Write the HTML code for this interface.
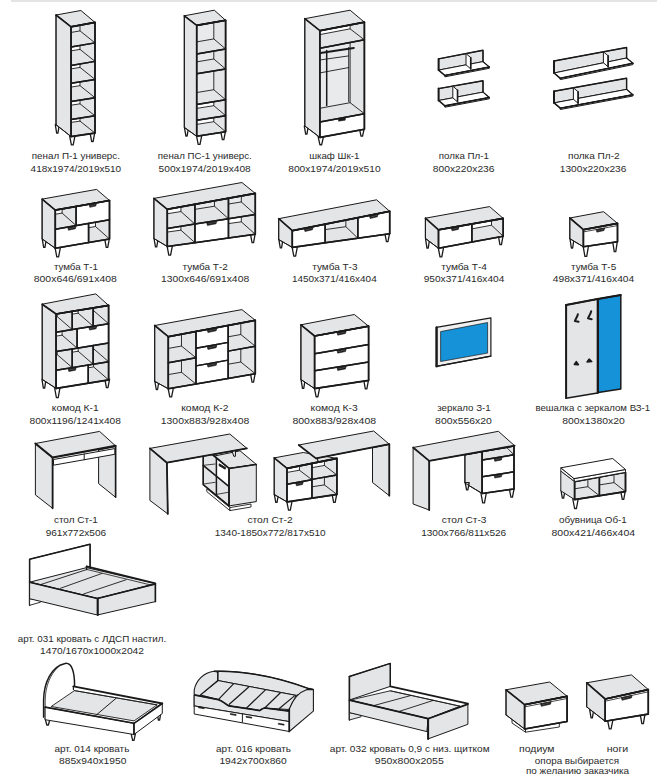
<!DOCTYPE html>
<html><head><meta charset="utf-8"><style>
html,body{margin:0;padding:0;background:#fff;width:668px;height:777px;overflow:hidden}
svg{display:block}
text{font-family:"Liberation Sans",sans-serif}
</style></head><body>
<svg width="668" height="777" viewBox="0 0 668 777">
<defs><clipPath id="c1"><polygon points="71.1,26.8 95,22.4 95,42.88 71.1,47.11"/></clipPath><clipPath id="c2"><polygon points="71.1,47.11 95,42.88 95,61.37 71.1,65.45"/></clipPath><clipPath id="c3"><polygon points="71.1,65.45 95,61.37 95,79.41 71.1,83.35"/></clipPath><clipPath id="c4"><polygon points="71.1,83.35 95,79.41 95,97.68 71.1,101.46"/></clipPath><clipPath id="c5"><polygon points="71.1,101.46 95,97.68 95,115.83 71.1,119.47"/></clipPath><clipPath id="c6"><polygon points="71.1,119.47 95,115.83 95,133.1 71.1,136.6"/></clipPath><clipPath id="c7"><polygon points="196.7,25.4 225.6,20.3 225.6,48.93 196.7,53.9"/></clipPath><clipPath id="c8"><polygon points="196.7,53.9 225.6,48.93 225.6,68.98 196.7,73.86"/></clipPath><clipPath id="c9"><polygon points="196.7,73.86 225.6,68.98 225.6,99.73 196.7,104.47"/></clipPath><clipPath id="c10"><polygon points="196.7,104.47 225.6,99.73 225.6,115.66 196.7,120.33"/></clipPath><clipPath id="c11"><polygon points="196.7,120.33 225.6,115.66 225.6,131.7 196.7,136.3"/></clipPath><clipPath id="c12"><polygon points="319.9,30.7 364.4,22.2 364.4,39.85 319.9,48.31"/></clipPath><clipPath id="c13"><polygon points="319.9,48.31 364.4,39.85 364.4,113.68 319.9,121.93"/></clipPath><clipPath id="c14"><polygon points="55.3,210.1 76.11,206.41 76.11,225.57 55.3,229.2"/></clipPath><clipPath id="c15"><polygon points="88.58,223.4 109.5,219.75 109.5,239 88.58,242.59"/></clipPath><clipPath id="c16"><polygon points="167.3,209.3 194.93,204.31 194.93,224.06 167.3,228.46"/></clipPath><clipPath id="c17"><polygon points="167.3,228.46 194.93,224.06 194.93,242.67 167.3,246.5"/></clipPath><clipPath id="c18"><polygon points="194.93,204.31 228.46,198.25 228.46,218.73 194.93,224.06"/></clipPath><clipPath id="c19"><polygon points="228.46,198.25 255.3,193.4 255.3,214.46 228.46,218.73"/></clipPath><clipPath id="c20"><polygon points="228.46,218.73 255.3,214.46 255.3,234.3 228.46,238.02"/></clipPath><clipPath id="c21"><polygon points="325.12,224.16 357.85,217.64 357.85,238.18 325.12,242.78"/></clipPath><clipPath id="c22"><polygon points="471.89,223.92 503.2,218.4 503.2,236.2 471.89,242.06"/></clipPath><clipPath id="c23"><polygon points="56.1,314 72.22,311.36 72.22,329.6 56.1,332.23"/></clipPath><clipPath id="c24"><polygon points="72.22,311.36 93.16,307.93 93.16,326.17 72.22,329.6"/></clipPath><clipPath id="c25"><polygon points="93.16,307.93 108.6,305.4 108.6,323.65 93.16,326.17"/></clipPath><clipPath id="c26"><polygon points="56.1,332.23 77.1,328.8 77.1,348.15 56.1,351.57"/></clipPath><clipPath id="c27"><polygon points="56.1,351.57 72.22,348.95 72.22,367.63 56.1,370.25"/></clipPath><clipPath id="c28"><polygon points="72.22,348.95 93.16,345.54 93.16,364.23 72.22,367.63"/></clipPath><clipPath id="c29"><polygon points="93.16,345.54 108.6,343.02 108.6,361.72 93.16,364.23"/></clipPath><clipPath id="c30"><polygon points="88.23,365.03 108.6,361.72 108.6,379.9 88.23,383.2"/></clipPath><clipPath id="c31"><polygon points="168.3,336.7 195.97,331.48 195.97,357.74 168.3,362.75"/></clipPath><clipPath id="c32"><polygon points="168.3,362.75 195.97,357.74 195.97,384 168.3,388.8"/></clipPath><clipPath id="c33"><polygon points="228.16,325.42 255.3,320.3 255.3,346.2 228.16,351.12"/></clipPath><clipPath id="c34"><polygon points="228.16,351.12 255.3,346.2 255.3,373.7 228.16,378.41"/></clipPath><clipPath id="c35"><polygon points="287,468.4 311.95,463.4 311.95,479.73 287,484.14"/></clipPath><clipPath id="c36"><polygon points="311.95,463.4 336.9,458.4 336.9,474.96 311.95,479.38"/></clipPath><clipPath id="c37"><polygon points="311.95,479.38 336.9,474.96 336.9,494.4 311.95,498.15"/></clipPath><clipPath id="c38"><polygon points="482.2,451.5 514,446 514,454.81 482.2,460.11"/></clipPath><clipPath id="c39"><polygon points="574.6,481.6 599.39,477.07 599.39,495.7 574.6,499.6"/></clipPath><clipPath id="c40"><polygon points="599.39,477.07 625.5,472.3 625.5,491.6 599.39,495.7"/></clipPath></defs>
<rect x="11" y="0" width="646" height="2" fill="#e4e4e6"/>
<polygon points="55.3,124.72 59.3,124.72 57.94,133.22 56.66,133.22" fill="#ffffff" stroke="#1b1a1a" stroke-width="1.3" stroke-linejoin="round" />
<polygon points="69.5,135.42 75.1,135.42 73.2,144.92 71.4,144.92" fill="#ffffff" stroke="#1b1a1a" stroke-width="1.3" stroke-linejoin="round" />
<polygon points="90,132.48 94.8,132.48 93.17,141.48 91.63,141.48" fill="#ffffff" stroke="#1b1a1a" stroke-width="1.3" stroke-linejoin="round" />
<polygon points="56,15 80.9,10.5 95,22.4 71.1,26.8" fill="#e4e5e6" stroke="#1b1a1a" stroke-width="1.0" stroke-linejoin="round" />
<polygon points="56,15 71.1,26.8 71.1,136.6 56,124.7" fill="#e4e5e6" stroke="#1b1a1a" stroke-width="1.0" stroke-linejoin="round" />
<polygon points="71.1,26.8 95,22.4 95,42.88 71.1,47.11" fill="#e4e5e6" stroke="none" stroke-width="0" stroke-linejoin="round" />
<g clip-path="url(#c1)">
<polygon points="56.1,14.8 80,10.4 80,30.88 56.1,35.11" fill="#e9eaeb" stroke="none" stroke-width="0" stroke-linejoin="round" />
<polygon points="56.1,14.8 80,10.4 80,30.88 56.1,35.11" fill="none" stroke="#1b1a1a" stroke-width="0.9" stroke-linejoin="round" />
<line x1="95" y1="42.88" x2="80" y2="30.88" stroke="#1b1a1a" stroke-width="0.9" stroke-linecap="round"/>
</g>
<polygon points="71.1,47.11 95,42.88 95,61.37 71.1,65.45" fill="#e4e5e6" stroke="none" stroke-width="0" stroke-linejoin="round" />
<g clip-path="url(#c2)">
<polygon points="56.1,35.11 80,30.88 80,49.37 56.1,53.45" fill="#ffffff" stroke="none" stroke-width="0" stroke-linejoin="round" />
<polygon points="56.1,35.11 80,30.88 80,49.37 56.1,53.45" fill="none" stroke="#1b1a1a" stroke-width="0.9" stroke-linejoin="round" />
<line x1="95" y1="61.37" x2="80" y2="49.37" stroke="#1b1a1a" stroke-width="0.9" stroke-linecap="round"/>
</g>
<polygon points="71.1,65.45 95,61.37 95,79.41 71.1,83.35" fill="#e4e5e6" stroke="none" stroke-width="0" stroke-linejoin="round" />
<g clip-path="url(#c3)">
<polygon points="56.1,53.45 80,49.37 80,67.41 56.1,71.35" fill="#ffffff" stroke="none" stroke-width="0" stroke-linejoin="round" />
<polygon points="56.1,53.45 80,49.37 80,67.41 56.1,71.35" fill="none" stroke="#1b1a1a" stroke-width="0.9" stroke-linejoin="round" />
<line x1="95" y1="79.41" x2="80" y2="67.41" stroke="#1b1a1a" stroke-width="0.9" stroke-linecap="round"/>
</g>
<polygon points="71.1,83.35 95,79.41 95,97.68 71.1,101.46" fill="#e4e5e6" stroke="none" stroke-width="0" stroke-linejoin="round" />
<g clip-path="url(#c4)">
<polygon points="56.1,71.35 80,67.41 80,85.68 56.1,89.46" fill="#ffffff" stroke="none" stroke-width="0" stroke-linejoin="round" />
<polygon points="56.1,71.35 80,67.41 80,85.68 56.1,89.46" fill="none" stroke="#1b1a1a" stroke-width="0.9" stroke-linejoin="round" />
<line x1="95" y1="97.68" x2="80" y2="85.68" stroke="#1b1a1a" stroke-width="0.9" stroke-linecap="round"/>
</g>
<polygon points="71.1,101.46 95,97.68 95,115.83 71.1,119.47" fill="#e4e5e6" stroke="none" stroke-width="0" stroke-linejoin="round" />
<g clip-path="url(#c5)">
<polygon points="56.1,89.46 80,85.68 80,103.83 56.1,107.47" fill="#ffffff" stroke="none" stroke-width="0" stroke-linejoin="round" />
<polygon points="56.1,89.46 80,85.68 80,103.83 56.1,107.47" fill="none" stroke="#1b1a1a" stroke-width="0.9" stroke-linejoin="round" />
<line x1="95" y1="115.83" x2="80" y2="103.83" stroke="#1b1a1a" stroke-width="0.9" stroke-linecap="round"/>
</g>
<polygon points="71.1,119.47 95,115.83 95,133.1 71.1,136.6" fill="#e4e5e6" stroke="none" stroke-width="0" stroke-linejoin="round" />
<g clip-path="url(#c6)">
<polygon points="56.1,107.47 80,103.83 80,121.1 56.1,124.6" fill="#ffffff" stroke="none" stroke-width="0" stroke-linejoin="round" />
<polygon points="56.1,107.47 80,103.83 80,121.1 56.1,124.6" fill="none" stroke="#1b1a1a" stroke-width="0.9" stroke-linejoin="round" />
<line x1="95" y1="133.1" x2="80" y2="121.1" stroke="#1b1a1a" stroke-width="0.9" stroke-linecap="round"/>
</g>
<polygon points="71.1,26.8 95,22.4 95,42.88 71.1,47.11" fill="none" stroke="#1b1a1a" stroke-width="1.5" stroke-linejoin="round" />
<polygon points="71.1,47.11 95,42.88 95,61.37 71.1,65.45" fill="none" stroke="#1b1a1a" stroke-width="1.5" stroke-linejoin="round" />
<polygon points="71.1,65.45 95,61.37 95,79.41 71.1,83.35" fill="none" stroke="#1b1a1a" stroke-width="1.5" stroke-linejoin="round" />
<polygon points="71.1,83.35 95,79.41 95,97.68 71.1,101.46" fill="none" stroke="#1b1a1a" stroke-width="1.5" stroke-linejoin="round" />
<polygon points="71.1,101.46 95,97.68 95,115.83 71.1,119.47" fill="none" stroke="#1b1a1a" stroke-width="1.5" stroke-linejoin="round" />
<polygon points="71.1,119.47 95,115.83 95,133.1 71.1,136.6" fill="none" stroke="#1b1a1a" stroke-width="1.5" stroke-linejoin="round" />
<polygon points="71.1,26.8 95,22.4 95,133.1 71.1,136.6" fill="none" stroke="#1b1a1a" stroke-width="1.6" stroke-linejoin="round" />
<polyline points="56,15 71.1,26.8 95,22.4" fill="none" stroke="#1b1a1a" stroke-width="1.7" stroke-linejoin="round" stroke-linecap="round" />
<line x1="56" y1="15" x2="56" y2="124.7" stroke="#1b1a1a" stroke-width="1.0" stroke-linecap="round"/>
<line x1="56" y1="124.7" x2="71.1" y2="136.6" stroke="#1b1a1a" stroke-width="1.0" stroke-linecap="round"/>
<polygon points="184.5,127.98 188.5,127.98 187.14,135.98 185.86,135.98" fill="#ffffff" stroke="#1b1a1a" stroke-width="1.3" stroke-linejoin="round" />
<polygon points="196.3,134.92 201.9,134.92 200,144.42 198.2,144.42" fill="#ffffff" stroke="#1b1a1a" stroke-width="1.3" stroke-linejoin="round" />
<polygon points="220.7,131.1 225.5,131.1 223.87,139.6 222.33,139.6" fill="#ffffff" stroke="#1b1a1a" stroke-width="1.3" stroke-linejoin="round" />
<polygon points="184.3,15.8 214.3,10.2 225.6,20.3 196.7,25.4" fill="#e4e5e6" stroke="#1b1a1a" stroke-width="1.0" stroke-linejoin="round" />
<polygon points="184.3,15.8 196.7,25.4 196.7,136.3 184.3,127.4" fill="#e4e5e6" stroke="#1b1a1a" stroke-width="1.0" stroke-linejoin="round" />
<polygon points="196.7,25.4 225.6,20.3 225.6,48.93 196.7,53.9" fill="#e4e5e6" stroke="none" stroke-width="0" stroke-linejoin="round" />
<g clip-path="url(#c7)">
<polygon points="184.9,15.4 213.8,10.3 213.8,38.93 184.9,43.9" fill="#e9eaeb" stroke="none" stroke-width="0" stroke-linejoin="round" />
<polygon points="184.9,15.4 213.8,10.3 213.8,38.93 184.9,43.9" fill="none" stroke="#1b1a1a" stroke-width="0.9" stroke-linejoin="round" />
<line x1="225.6" y1="48.93" x2="213.8" y2="38.93" stroke="#1b1a1a" stroke-width="0.9" stroke-linecap="round"/>
</g>
<polygon points="196.7,53.9 225.6,48.93 225.6,68.98 196.7,73.86" fill="#e4e5e6" stroke="none" stroke-width="0" stroke-linejoin="round" />
<g clip-path="url(#c8)">
<polygon points="184.9,43.9 213.8,38.93 213.8,58.98 184.9,63.86" fill="#e9eaeb" stroke="none" stroke-width="0" stroke-linejoin="round" />
<polygon points="184.9,43.9 213.8,38.93 213.8,58.98 184.9,63.86" fill="none" stroke="#1b1a1a" stroke-width="0.9" stroke-linejoin="round" />
<line x1="225.6" y1="68.98" x2="213.8" y2="58.98" stroke="#1b1a1a" stroke-width="0.9" stroke-linecap="round"/>
</g>
<polygon points="196.7,73.86 225.6,68.98 225.6,99.73 196.7,104.47" fill="#e4e5e6" stroke="none" stroke-width="0" stroke-linejoin="round" />
<g clip-path="url(#c9)">
<polygon points="184.9,63.86 213.8,58.98 213.8,89.73 184.9,94.47" fill="#e9eaeb" stroke="none" stroke-width="0" stroke-linejoin="round" />
<polygon points="184.9,63.86 213.8,58.98 213.8,89.73 184.9,94.47" fill="none" stroke="#1b1a1a" stroke-width="0.9" stroke-linejoin="round" />
<line x1="225.6" y1="99.73" x2="213.8" y2="89.73" stroke="#1b1a1a" stroke-width="0.9" stroke-linecap="round"/>
</g>
<polygon points="196.7,104.47 225.6,99.73 225.6,115.66 196.7,120.33" fill="#e4e5e6" stroke="none" stroke-width="0" stroke-linejoin="round" />
<g clip-path="url(#c10)">
<polygon points="184.9,94.47 213.8,89.73 213.8,105.66 184.9,110.33" fill="#ffffff" stroke="none" stroke-width="0" stroke-linejoin="round" />
<polygon points="184.9,94.47 213.8,89.73 213.8,105.66 184.9,110.33" fill="none" stroke="#1b1a1a" stroke-width="0.9" stroke-linejoin="round" />
<line x1="225.6" y1="115.66" x2="213.8" y2="105.66" stroke="#1b1a1a" stroke-width="0.9" stroke-linecap="round"/>
</g>
<polygon points="196.7,120.33 225.6,115.66 225.6,131.7 196.7,136.3" fill="#e4e5e6" stroke="none" stroke-width="0" stroke-linejoin="round" />
<g clip-path="url(#c11)">
<polygon points="184.9,110.33 213.8,105.66 213.8,121.7 184.9,126.3" fill="#ffffff" stroke="none" stroke-width="0" stroke-linejoin="round" />
<polygon points="184.9,110.33 213.8,105.66 213.8,121.7 184.9,126.3" fill="none" stroke="#1b1a1a" stroke-width="0.9" stroke-linejoin="round" />
<line x1="225.6" y1="131.7" x2="213.8" y2="121.7" stroke="#1b1a1a" stroke-width="0.9" stroke-linecap="round"/>
</g>
<polygon points="196.7,25.4 225.6,20.3 225.6,48.93 196.7,53.9" fill="none" stroke="#1b1a1a" stroke-width="1.5" stroke-linejoin="round" />
<polygon points="196.7,53.9 225.6,48.93 225.6,68.98 196.7,73.86" fill="none" stroke="#1b1a1a" stroke-width="1.5" stroke-linejoin="round" />
<polygon points="196.7,73.86 225.6,68.98 225.6,99.73 196.7,104.47" fill="none" stroke="#1b1a1a" stroke-width="1.5" stroke-linejoin="round" />
<polygon points="196.7,104.47 225.6,99.73 225.6,115.66 196.7,120.33" fill="none" stroke="#1b1a1a" stroke-width="1.5" stroke-linejoin="round" />
<polygon points="196.7,120.33 225.6,115.66 225.6,131.7 196.7,136.3" fill="none" stroke="#1b1a1a" stroke-width="1.5" stroke-linejoin="round" />
<polygon points="196.7,25.4 225.6,20.3 225.6,131.7 196.7,136.3" fill="none" stroke="#1b1a1a" stroke-width="1.6" stroke-linejoin="round" />
<polyline points="184.3,15.8 196.7,25.4 225.6,20.3" fill="none" stroke="#1b1a1a" stroke-width="1.7" stroke-linejoin="round" stroke-linecap="round" />
<line x1="184.3" y1="15.8" x2="184.3" y2="127.4" stroke="#1b1a1a" stroke-width="1.0" stroke-linecap="round"/>
<line x1="184.3" y1="127.4" x2="196.7" y2="136.3" stroke="#1b1a1a" stroke-width="1.0" stroke-linecap="round"/>
<polygon points="304.3,126.13 308.3,126.13 306.94,134.13 305.66,134.13" fill="#ffffff" stroke="#1b1a1a" stroke-width="1.3" stroke-linejoin="round" />
<polygon points="318,136.23 323.6,136.23 321.7,144.73 319.9,144.73" fill="#ffffff" stroke="#1b1a1a" stroke-width="1.3" stroke-linejoin="round" />
<polygon points="359.4,128.68 364.2,128.68 362.57,136.18 361.03,136.18" fill="#ffffff" stroke="#1b1a1a" stroke-width="1.3" stroke-linejoin="round" />
<polygon points="304.8,18.7 350.1,10.2 364.4,22.2 319.9,30.7" fill="#e4e5e6" stroke="#1b1a1a" stroke-width="1.0" stroke-linejoin="round" />
<polygon points="304.8,18.7 319.9,30.7 319.9,137.4 304.8,126" fill="#e4e5e6" stroke="#1b1a1a" stroke-width="1.0" stroke-linejoin="round" />
<polygon points="319.9,30.7 364.4,22.2 364.4,39.85 319.9,48.31" fill="#e4e5e6" stroke="none" stroke-width="0" stroke-linejoin="round" />
<g clip-path="url(#c12)">
<polygon points="305.6,19.7 350.1,11.2 350.1,28.85 305.6,37.31" fill="#ffffff" stroke="none" stroke-width="0" stroke-linejoin="round" />
<polygon points="305.6,19.7 350.1,11.2 350.1,28.85 305.6,37.31" fill="none" stroke="#1b1a1a" stroke-width="0.9" stroke-linejoin="round" />
<line x1="364.4" y1="39.85" x2="350.1" y2="28.85" stroke="#1b1a1a" stroke-width="0.9" stroke-linecap="round"/>
</g>
<polygon points="319.9,48.31 364.4,39.85 364.4,113.68 319.9,121.93" fill="#e4e5e6" stroke="none" stroke-width="0" stroke-linejoin="round" />
<g clip-path="url(#c13)">
<polygon points="305.6,37.31 350.1,28.85 350.1,102.68 305.6,110.93" fill="#e9eaeb" stroke="none" stroke-width="0" stroke-linejoin="round" />
<polygon points="305.6,37.31 350.1,28.85 350.1,102.68 305.6,110.93" fill="none" stroke="#1b1a1a" stroke-width="0.9" stroke-linejoin="round" />
<line x1="364.4" y1="113.68" x2="350.1" y2="102.68" stroke="#1b1a1a" stroke-width="0.9" stroke-linecap="round"/>
</g>
<polygon points="319.9,121.93 364.4,113.68 364.4,129.2 319.9,137.4" fill="#ffffff" stroke="none" stroke-width="0" stroke-linejoin="round" />
<polygon points="319.9,30.7 364.4,22.2 364.4,39.85 319.9,48.31" fill="none" stroke="#1b1a1a" stroke-width="1.5" stroke-linejoin="round" />
<polygon points="319.9,48.31 364.4,39.85 364.4,113.68 319.9,121.93" fill="none" stroke="#1b1a1a" stroke-width="1.5" stroke-linejoin="round" />
<polygon points="319.9,121.93 364.4,113.68 364.4,129.2 319.9,137.4" fill="none" stroke="#1b1a1a" stroke-width="1.5" stroke-linejoin="round" />
<polygon points="319.9,30.7 364.4,22.2 364.4,129.2 319.9,137.4" fill="none" stroke="#1b1a1a" stroke-width="1.6" stroke-linejoin="round" />
<polyline points="304.8,18.7 319.9,30.7 364.4,22.2" fill="none" stroke="#1b1a1a" stroke-width="1.7" stroke-linejoin="round" stroke-linecap="round" />
<line x1="304.8" y1="18.7" x2="304.8" y2="126" stroke="#1b1a1a" stroke-width="1.0" stroke-linecap="round"/>
<line x1="304.8" y1="126" x2="319.9" y2="137.4" stroke="#1b1a1a" stroke-width="1.0" stroke-linecap="round"/>
<line x1="326.7" y1="50.5" x2="326.7" y2="105.5" stroke="#1b1a1a" stroke-width="1.5" stroke-linecap="round"/>
<line x1="348.7" y1="47.5" x2="348.7" y2="101.5" stroke="#1b1a1a" stroke-width="0.9" stroke-linecap="round"/>
<line x1="320.4" y1="59.9" x2="348.6" y2="55.9" stroke="#1b1a1a" stroke-width="0.9" stroke-linecap="round"/>
<line x1="320.4" y1="72.8" x2="348.6" y2="67.6" stroke="#1b1a1a" stroke-width="0.9" stroke-linecap="round"/>
<line x1="320.4" y1="53" x2="353.8" y2="47.9" stroke="#1b1a1a" stroke-width="2.0" stroke-linecap="round"/>
<polygon points="338.2,118.6 345.6,117.6 345.2,120.2 338.6,121.2" fill="#1b1a1a" stroke="#1b1a1a" stroke-width="0.5" stroke-linejoin="round" />
<polygon points="438.6,58.9 483,50.3 483,61.6 438.6,70.1" fill="#e4e5e6" stroke="#1b1a1a" stroke-width="1.0" stroke-linejoin="round" />
<polygon points="438.6,70.1 483,61.6 489.3,67 444.9,75.5" fill="#ffffff" stroke="#1b1a1a" stroke-width="1.0" stroke-linejoin="round" />
<polygon points="444.9,75.5 489.3,67 489.3,68.3 444.9,76.8" fill="#ffffff" stroke="#1b1a1a" stroke-width="1.0" stroke-linejoin="round" />
<polyline points="438.6,58.9 483,50.3 483,61.6" fill="none" stroke="#1b1a1a" stroke-width="1.4" stroke-linejoin="round" stroke-linecap="round" />
<line x1="438.6" y1="58.9" x2="438.6" y2="70.1" stroke="#1b1a1a" stroke-width="2.0" stroke-linecap="round"/>
<line x1="438.6" y1="70.1" x2="444.9" y2="75.5" stroke="#1b1a1a" stroke-width="1.6" stroke-linecap="round"/>
<line x1="444.9" y1="75.5" x2="489.3" y2="67" stroke="#1b1a1a" stroke-width="1.6" stroke-linecap="round"/>
<line x1="483" y1="61.6" x2="489.3" y2="67" stroke="#1b1a1a" stroke-width="1.2" stroke-linecap="round"/>
<polygon points="466,53.59 470.73,57.64 470.73,68.9 466,64.85" fill="#ffffff" stroke="#1b1a1a" stroke-width="1.0" stroke-linejoin="round" />
<line x1="470.73" y1="57.64" x2="470.73" y2="68.9" stroke="#1b1a1a" stroke-width="1.6" stroke-linecap="round"/>
<polygon points="438.6,88.6 483,80.8 483,92.1 438.6,100.5" fill="#e4e5e6" stroke="#1b1a1a" stroke-width="1.0" stroke-linejoin="round" />
<polygon points="438.6,100.5 483,92.1 489.3,97.5 444.9,105.9" fill="#ffffff" stroke="#1b1a1a" stroke-width="1.0" stroke-linejoin="round" />
<polygon points="444.9,105.9 489.3,97.5 489.3,98.8 444.9,107.2" fill="#ffffff" stroke="#1b1a1a" stroke-width="1.0" stroke-linejoin="round" />
<polyline points="438.6,88.6 483,80.8 483,92.1" fill="none" stroke="#1b1a1a" stroke-width="1.4" stroke-linejoin="round" stroke-linecap="round" />
<line x1="438.6" y1="88.6" x2="438.6" y2="100.5" stroke="#1b1a1a" stroke-width="2.0" stroke-linecap="round"/>
<line x1="438.6" y1="100.5" x2="444.9" y2="105.9" stroke="#1b1a1a" stroke-width="1.6" stroke-linecap="round"/>
<line x1="444.9" y1="105.9" x2="489.3" y2="97.5" stroke="#1b1a1a" stroke-width="1.6" stroke-linecap="round"/>
<line x1="483" y1="92.1" x2="489.3" y2="97.5" stroke="#1b1a1a" stroke-width="1.2" stroke-linecap="round"/>
<polygon points="452.8,86.11 457.53,90.16 457.53,101.86 452.8,97.81" fill="#ffffff" stroke="#1b1a1a" stroke-width="1.0" stroke-linejoin="round" />
<line x1="457.53" y1="90.16" x2="457.53" y2="101.86" stroke="#1b1a1a" stroke-width="1.6" stroke-linecap="round"/>
<polygon points="554,61 626.6,47.5 626.6,58 554,73" fill="#e4e5e6" stroke="#1b1a1a" stroke-width="1.0" stroke-linejoin="round" />
<polygon points="554,73 626.6,58 632.9,63.3 560.3,78.3" fill="#ffffff" stroke="#1b1a1a" stroke-width="1.0" stroke-linejoin="round" />
<polygon points="560.3,78.3 632.9,63.3 632.9,64.6 560.3,79.6" fill="#ffffff" stroke="#1b1a1a" stroke-width="1.0" stroke-linejoin="round" />
<polyline points="554,61 626.6,47.5 626.6,58" fill="none" stroke="#1b1a1a" stroke-width="1.4" stroke-linejoin="round" stroke-linecap="round" />
<line x1="554" y1="61" x2="554" y2="73" stroke="#1b1a1a" stroke-width="2.0" stroke-linecap="round"/>
<line x1="554" y1="73" x2="560.3" y2="78.3" stroke="#1b1a1a" stroke-width="1.6" stroke-linecap="round"/>
<line x1="560.3" y1="78.3" x2="632.9" y2="63.3" stroke="#1b1a1a" stroke-width="1.6" stroke-linecap="round"/>
<line x1="626.6" y1="58" x2="632.9" y2="63.3" stroke="#1b1a1a" stroke-width="1.2" stroke-linecap="round"/>
<polygon points="603.4,51.81 608.12,55.79 608.12,66.77 603.4,62.79" fill="#ffffff" stroke="#1b1a1a" stroke-width="1.0" stroke-linejoin="round" />
<line x1="608.12" y1="55.79" x2="608.12" y2="66.77" stroke="#1b1a1a" stroke-width="1.6" stroke-linecap="round"/>
<polygon points="554,91.3 626.6,78.2 626.6,89.4 554,102.9" fill="#e4e5e6" stroke="#1b1a1a" stroke-width="1.0" stroke-linejoin="round" />
<polygon points="554,102.9 626.6,89.4 632.9,94.7 560.3,108.2" fill="#ffffff" stroke="#1b1a1a" stroke-width="1.0" stroke-linejoin="round" />
<polygon points="560.3,108.2 632.9,94.7 632.9,96 560.3,109.5" fill="#ffffff" stroke="#1b1a1a" stroke-width="1.0" stroke-linejoin="round" />
<polyline points="554,91.3 626.6,78.2 626.6,89.4" fill="none" stroke="#1b1a1a" stroke-width="1.4" stroke-linejoin="round" stroke-linecap="round" />
<line x1="554" y1="91.3" x2="554" y2="102.9" stroke="#1b1a1a" stroke-width="2.0" stroke-linecap="round"/>
<line x1="554" y1="102.9" x2="560.3" y2="108.2" stroke="#1b1a1a" stroke-width="1.6" stroke-linecap="round"/>
<line x1="560.3" y1="108.2" x2="632.9" y2="94.7" stroke="#1b1a1a" stroke-width="1.6" stroke-linecap="round"/>
<line x1="626.6" y1="89.4" x2="632.9" y2="94.7" stroke="#1b1a1a" stroke-width="1.2" stroke-linecap="round"/>
<polygon points="573.4,87.8 578.12,91.77 578.12,103.27 573.4,99.29" fill="#ffffff" stroke="#1b1a1a" stroke-width="1.0" stroke-linejoin="round" />
<line x1="578.12" y1="91.77" x2="578.12" y2="103.27" stroke="#1b1a1a" stroke-width="1.6" stroke-linecap="round"/>
<polygon points="42.3,239.47 46.3,239.47 44.94,247.47 43.66,247.47" fill="#ffffff" stroke="#1b1a1a" stroke-width="1.3" stroke-linejoin="round" />
<polygon points="54.9,246.89 60.5,246.89 58.6,256.89 56.8,256.89" fill="#ffffff" stroke="#1b1a1a" stroke-width="1.3" stroke-linejoin="round" />
<polygon points="104.6,238.43 109.4,238.43 107.77,247.43 106.23,247.43" fill="#ffffff" stroke="#1b1a1a" stroke-width="1.3" stroke-linejoin="round" />
<polygon points="42.1,199.1 96.6,189.4 109.5,200.5 55.3,210.1" fill="#e4e5e6" stroke="#1b1a1a" stroke-width="1.0" stroke-linejoin="round" />
<polygon points="42.1,199.1 55.3,210.1 55.3,248.3 42.1,238.9" fill="#e4e5e6" stroke="#1b1a1a" stroke-width="1.0" stroke-linejoin="round" />
<polygon points="55.3,210.1 76.11,206.41 76.11,225.57 55.3,229.2" fill="#e4e5e6" stroke="none" stroke-width="0" stroke-linejoin="round" />
<g clip-path="url(#c14)">
<polygon points="41.3,197.6 62.11,193.91 62.11,213.07 41.3,216.7" fill="#ffffff" stroke="none" stroke-width="0" stroke-linejoin="round" />
<polygon points="41.3,197.6 62.11,193.91 62.11,213.07 41.3,216.7" fill="none" stroke="#1b1a1a" stroke-width="0.9" stroke-linejoin="round" />
<line x1="76.11" y1="225.57" x2="62.11" y2="213.07" stroke="#1b1a1a" stroke-width="0.9" stroke-linecap="round"/>
</g>
<polygon points="76.11,206.41 109.5,200.5 109.5,219.75 76.11,225.57" fill="#ffffff" stroke="none" stroke-width="0" stroke-linejoin="round" />
<polygon points="89.13,204.71 96.48,203.41 95.78,206.01 89.83,207.31" fill="#1b1a1a" stroke="#1b1a1a" stroke-width="0.6" stroke-linejoin="round" />
<line x1="90.53" y1="205.81" x2="95.08" y2="204.51" stroke="#777777" stroke-width="0.5" stroke-linecap="round"/>
<polygon points="55.3,229.2 88.58,223.4 88.58,242.59 55.3,248.3" fill="#ffffff" stroke="none" stroke-width="0" stroke-linejoin="round" />
<polygon points="67.78,227.62 76.1,226.17 75.4,228.77 68.48,230.22" fill="#1b1a1a" stroke="#1b1a1a" stroke-width="0.6" stroke-linejoin="round" />
<line x1="69.18" y1="228.72" x2="74.7" y2="227.27" stroke="#777777" stroke-width="0.5" stroke-linecap="round"/>
<polygon points="88.58,223.4 109.5,219.75 109.5,239 88.58,242.59" fill="#e4e5e6" stroke="none" stroke-width="0" stroke-linejoin="round" />
<g clip-path="url(#c15)">
<polygon points="74.58,210.9 95.5,207.25 95.5,226.5 74.58,230.09" fill="#ffffff" stroke="none" stroke-width="0" stroke-linejoin="round" />
<polygon points="74.58,210.9 95.5,207.25 95.5,226.5 74.58,230.09" fill="none" stroke="#1b1a1a" stroke-width="0.9" stroke-linejoin="round" />
<line x1="109.5" y1="239" x2="95.5" y2="226.5" stroke="#1b1a1a" stroke-width="0.9" stroke-linecap="round"/>
</g>
<polygon points="55.3,210.1 76.11,206.41 76.11,225.57 55.3,229.2" fill="none" stroke="#1b1a1a" stroke-width="1.5" stroke-linejoin="round" />
<polygon points="76.11,206.41 109.5,200.5 109.5,219.75 76.11,225.57" fill="none" stroke="#1b1a1a" stroke-width="1.5" stroke-linejoin="round" />
<polygon points="55.3,229.2 88.58,223.4 88.58,242.59 55.3,248.3" fill="none" stroke="#1b1a1a" stroke-width="1.5" stroke-linejoin="round" />
<polygon points="88.58,223.4 109.5,219.75 109.5,239 88.58,242.59" fill="none" stroke="#1b1a1a" stroke-width="1.5" stroke-linejoin="round" />
<polygon points="55.3,210.1 109.5,200.5 109.5,239 55.3,248.3" fill="none" stroke="#1b1a1a" stroke-width="1.6" stroke-linejoin="round" />
<polyline points="42.1,199.1 55.3,210.1 109.5,200.5" fill="none" stroke="#1b1a1a" stroke-width="1.7" stroke-linejoin="round" stroke-linecap="round" />
<line x1="42.1" y1="199.1" x2="42.1" y2="238.9" stroke="#1b1a1a" stroke-width="1.0" stroke-linecap="round"/>
<line x1="42.1" y1="238.9" x2="55.3" y2="248.3" stroke="#1b1a1a" stroke-width="1.0" stroke-linecap="round"/>
<polygon points="154.1,238.81 158.1,238.81 156.74,246.81 155.46,246.81" fill="#ffffff" stroke="#1b1a1a" stroke-width="1.3" stroke-linejoin="round" />
<polygon points="166.9,245.17 172.5,245.17 170.6,255.17 168.8,255.17" fill="#ffffff" stroke="#1b1a1a" stroke-width="1.3" stroke-linejoin="round" />
<polygon points="250.4,233.65 255.2,233.65 253.57,242.65 252.03,242.65" fill="#ffffff" stroke="#1b1a1a" stroke-width="1.3" stroke-linejoin="round" />
<polygon points="153.9,198.4 241.9,182.5 255.3,193.4 167.3,209.3" fill="#e4e5e6" stroke="#1b1a1a" stroke-width="1.0" stroke-linejoin="round" />
<polygon points="153.9,198.4 167.3,209.3 167.3,246.5 153.9,238.5" fill="#e4e5e6" stroke="#1b1a1a" stroke-width="1.0" stroke-linejoin="round" />
<polygon points="167.3,209.3 194.93,204.31 194.93,224.06 167.3,228.46" fill="#e4e5e6" stroke="none" stroke-width="0" stroke-linejoin="round" />
<g clip-path="url(#c16)">
<polygon points="153.3,196.8 180.93,191.81 180.93,211.56 153.3,215.96" fill="#ffffff" stroke="none" stroke-width="0" stroke-linejoin="round" />
<polygon points="153.3,196.8 180.93,191.81 180.93,211.56 153.3,215.96" fill="none" stroke="#1b1a1a" stroke-width="0.9" stroke-linejoin="round" />
<line x1="194.93" y1="224.06" x2="180.93" y2="211.56" stroke="#1b1a1a" stroke-width="0.9" stroke-linecap="round"/>
</g>
<polygon points="167.3,228.46 194.93,224.06 194.93,242.67 167.3,246.5" fill="#e4e5e6" stroke="none" stroke-width="0" stroke-linejoin="round" />
<g clip-path="url(#c17)">
<polygon points="153.3,215.96 180.93,211.56 180.93,230.17 153.3,234" fill="#ffffff" stroke="none" stroke-width="0" stroke-linejoin="round" />
<polygon points="153.3,215.96 180.93,211.56 180.93,230.17 153.3,234" fill="none" stroke="#1b1a1a" stroke-width="0.9" stroke-linejoin="round" />
<line x1="194.93" y1="242.67" x2="180.93" y2="230.17" stroke="#1b1a1a" stroke-width="0.9" stroke-linecap="round"/>
</g>
<polygon points="194.93,204.31 228.46,198.25 228.46,218.73 194.93,224.06" fill="#e4e5e6" stroke="none" stroke-width="0" stroke-linejoin="round" />
<g clip-path="url(#c18)">
<polygon points="180.93,191.81 214.46,185.75 214.46,206.23 180.93,211.56" fill="#e9eaeb" stroke="none" stroke-width="0" stroke-linejoin="round" />
<polygon points="180.93,191.81 214.46,185.75 214.46,206.23 180.93,211.56" fill="none" stroke="#1b1a1a" stroke-width="0.9" stroke-linejoin="round" />
<line x1="228.46" y1="218.73" x2="214.46" y2="206.23" stroke="#1b1a1a" stroke-width="0.9" stroke-linecap="round"/>
</g>
<polygon points="194.93,224.06 228.46,218.73 228.46,238.02 194.93,242.67" fill="#ffffff" stroke="none" stroke-width="0" stroke-linejoin="round" />
<polygon points="206.67,222.8 216.73,221.2 216.03,223.8 207.37,225.4" fill="#1b1a1a" stroke="#1b1a1a" stroke-width="0.6" stroke-linejoin="round" />
<line x1="208.07" y1="223.9" x2="215.33" y2="222.3" stroke="#777777" stroke-width="0.5" stroke-linecap="round"/>
<polygon points="228.46,198.25 255.3,193.4 255.3,214.46 228.46,218.73" fill="#e4e5e6" stroke="none" stroke-width="0" stroke-linejoin="round" />
<g clip-path="url(#c19)">
<polygon points="214.46,185.75 241.3,180.9 241.3,201.96 214.46,206.23" fill="#e9eaeb" stroke="none" stroke-width="0" stroke-linejoin="round" />
<polygon points="214.46,185.75 241.3,180.9 241.3,201.96 214.46,206.23" fill="none" stroke="#1b1a1a" stroke-width="0.9" stroke-linejoin="round" />
<line x1="255.3" y1="214.46" x2="241.3" y2="201.96" stroke="#1b1a1a" stroke-width="0.9" stroke-linecap="round"/>
</g>
<polygon points="228.46,218.73 255.3,214.46 255.3,234.3 228.46,238.02" fill="#e4e5e6" stroke="none" stroke-width="0" stroke-linejoin="round" />
<g clip-path="url(#c20)">
<polygon points="214.46,206.23 241.3,201.96 241.3,221.8 214.46,225.52" fill="#ffffff" stroke="none" stroke-width="0" stroke-linejoin="round" />
<polygon points="214.46,206.23 241.3,201.96 241.3,221.8 214.46,225.52" fill="none" stroke="#1b1a1a" stroke-width="0.9" stroke-linejoin="round" />
<line x1="255.3" y1="234.3" x2="241.3" y2="221.8" stroke="#1b1a1a" stroke-width="0.9" stroke-linecap="round"/>
</g>
<polygon points="167.3,209.3 194.93,204.31 194.93,224.06 167.3,228.46" fill="none" stroke="#1b1a1a" stroke-width="1.5" stroke-linejoin="round" />
<polygon points="167.3,228.46 194.93,224.06 194.93,242.67 167.3,246.5" fill="none" stroke="#1b1a1a" stroke-width="1.5" stroke-linejoin="round" />
<polygon points="194.93,204.31 228.46,198.25 228.46,218.73 194.93,224.06" fill="none" stroke="#1b1a1a" stroke-width="1.5" stroke-linejoin="round" />
<polygon points="194.93,224.06 228.46,218.73 228.46,238.02 194.93,242.67" fill="none" stroke="#1b1a1a" stroke-width="1.5" stroke-linejoin="round" />
<polygon points="228.46,198.25 255.3,193.4 255.3,214.46 228.46,218.73" fill="none" stroke="#1b1a1a" stroke-width="1.5" stroke-linejoin="round" />
<polygon points="228.46,218.73 255.3,214.46 255.3,234.3 228.46,238.02" fill="none" stroke="#1b1a1a" stroke-width="1.5" stroke-linejoin="round" />
<polygon points="167.3,209.3 255.3,193.4 255.3,234.3 167.3,246.5" fill="none" stroke="#1b1a1a" stroke-width="1.6" stroke-linejoin="round" />
<polyline points="153.9,198.4 167.3,209.3 255.3,193.4" fill="none" stroke="#1b1a1a" stroke-width="1.7" stroke-linejoin="round" stroke-linecap="round" />
<line x1="153.9" y1="198.4" x2="153.9" y2="238.5" stroke="#1b1a1a" stroke-width="1.0" stroke-linecap="round"/>
<line x1="153.9" y1="238.5" x2="167.3" y2="246.5" stroke="#1b1a1a" stroke-width="1.0" stroke-linecap="round"/>
<polygon points="278.9,239.86 282.9,239.86 281.54,247.86 280.26,247.86" fill="#ffffff" stroke="#1b1a1a" stroke-width="1.3" stroke-linejoin="round" />
<polygon points="291.9,246.06 297.5,246.06 295.6,256.06 293.8,256.06" fill="#ffffff" stroke="#1b1a1a" stroke-width="1.3" stroke-linejoin="round" />
<polygon points="384.8,233.05 389.6,233.05 387.97,241.55 386.43,241.55" fill="#ffffff" stroke="#1b1a1a" stroke-width="1.3" stroke-linejoin="round" />
<polygon points="278.7,218.7 376.6,199.8 389.7,211.3 292.3,230.7" fill="#e4e5e6" stroke="#1b1a1a" stroke-width="1.0" stroke-linejoin="round" />
<polygon points="278.7,218.7 292.3,230.7 292.3,247.4 278.7,239.6" fill="#e4e5e6" stroke="#1b1a1a" stroke-width="1.0" stroke-linejoin="round" />
<polygon points="292.3,230.7 325.12,224.16 325.12,242.78 292.3,247.4" fill="#ffffff" stroke="none" stroke-width="0" stroke-linejoin="round" />
<polygon points="304.28,228.91 313.14,227.15 312.44,229.75 304.98,231.51" fill="#1b1a1a" stroke="#1b1a1a" stroke-width="0.6" stroke-linejoin="round" />
<line x1="305.68" y1="230.01" x2="311.74" y2="228.25" stroke="#777777" stroke-width="0.5" stroke-linecap="round"/>
<polygon points="325.12,224.16 357.85,217.64 357.85,238.18 325.12,242.78" fill="#e4e5e6" stroke="none" stroke-width="0" stroke-linejoin="round" />
<g clip-path="url(#c21)">
<polygon points="313.12,212.66 345.85,206.14 345.85,226.68 313.12,231.28" fill="#e9eaeb" stroke="none" stroke-width="0" stroke-linejoin="round" />
<polygon points="313.12,212.66 345.85,206.14 345.85,226.68 313.12,231.28" fill="none" stroke="#1b1a1a" stroke-width="0.9" stroke-linejoin="round" />
<line x1="357.85" y1="238.18" x2="345.85" y2="226.68" stroke="#1b1a1a" stroke-width="0.9" stroke-linecap="round"/>
</g>
<polygon points="357.85,217.64 389.7,211.3 389.7,233.7 357.85,238.18" fill="#ffffff" stroke="none" stroke-width="0" stroke-linejoin="round" />
<polygon points="369.48,215.93 378.07,214.22 377.37,216.82 370.18,218.53" fill="#1b1a1a" stroke="#1b1a1a" stroke-width="0.6" stroke-linejoin="round" />
<line x1="370.88" y1="217.03" x2="376.67" y2="215.32" stroke="#777777" stroke-width="0.5" stroke-linecap="round"/>
<polygon points="292.3,230.7 325.12,224.16 325.12,242.78 292.3,247.4" fill="none" stroke="#1b1a1a" stroke-width="1.5" stroke-linejoin="round" />
<polygon points="325.12,224.16 357.85,217.64 357.85,238.18 325.12,242.78" fill="none" stroke="#1b1a1a" stroke-width="1.5" stroke-linejoin="round" />
<polygon points="357.85,217.64 389.7,211.3 389.7,233.7 357.85,238.18" fill="none" stroke="#1b1a1a" stroke-width="1.5" stroke-linejoin="round" />
<polygon points="292.3,230.7 389.7,211.3 389.7,233.7 292.3,247.4" fill="none" stroke="#1b1a1a" stroke-width="1.6" stroke-linejoin="round" />
<polyline points="278.7,218.7 292.3,230.7 389.7,211.3" fill="none" stroke="#1b1a1a" stroke-width="1.7" stroke-linejoin="round" stroke-linecap="round" />
<line x1="278.7" y1="218.7" x2="278.7" y2="239.6" stroke="#1b1a1a" stroke-width="1.0" stroke-linecap="round"/>
<line x1="278.7" y1="239.6" x2="292.3" y2="247.4" stroke="#1b1a1a" stroke-width="1.0" stroke-linecap="round"/>
<polygon points="425.6,239.06 429.6,239.06 428.24,248.06 426.96,248.06" fill="#ffffff" stroke="#1b1a1a" stroke-width="1.3" stroke-linejoin="round" />
<polygon points="438.1,246.85 443.7,246.85 441.8,256.85 440,256.85" fill="#ffffff" stroke="#1b1a1a" stroke-width="1.3" stroke-linejoin="round" />
<polygon points="498.3,235.67 503.1,235.67 501.47,244.67 499.93,244.67" fill="#ffffff" stroke="#1b1a1a" stroke-width="1.3" stroke-linejoin="round" />
<polygon points="425.4,218.2 489.6,206.6 503.2,218.4 438.5,229.8" fill="#e4e5e6" stroke="#1b1a1a" stroke-width="1.0" stroke-linejoin="round" />
<polygon points="425.4,218.2 438.5,229.8 438.5,248.3 425.4,238.4" fill="#e4e5e6" stroke="#1b1a1a" stroke-width="1.0" stroke-linejoin="round" />
<polygon points="438.5,229.8 471.89,223.92 471.89,242.06 438.5,248.3" fill="#ffffff" stroke="none" stroke-width="0" stroke-linejoin="round" />
<polygon points="451.35,228.14 459.03,226.78 458.33,229.38 452.05,230.74" fill="#1b1a1a" stroke="#1b1a1a" stroke-width="0.6" stroke-linejoin="round" />
<line x1="452.75" y1="229.24" x2="457.63" y2="227.88" stroke="#777777" stroke-width="0.5" stroke-linecap="round"/>
<polygon points="471.89,223.92 503.2,218.4 503.2,236.2 471.89,242.06" fill="#e4e5e6" stroke="none" stroke-width="0" stroke-linejoin="round" />
<g clip-path="url(#c22)">
<polygon points="460.19,212.92 491.5,207.4 491.5,225.2 460.19,231.06" fill="#ffffff" stroke="none" stroke-width="0" stroke-linejoin="round" />
<polygon points="460.19,212.92 491.5,207.4 491.5,225.2 460.19,231.06" fill="none" stroke="#1b1a1a" stroke-width="0.9" stroke-linejoin="round" />
<line x1="503.2" y1="236.2" x2="491.5" y2="225.2" stroke="#1b1a1a" stroke-width="0.9" stroke-linecap="round"/>
</g>
<polygon points="438.5,229.8 471.89,223.92 471.89,242.06 438.5,248.3" fill="none" stroke="#1b1a1a" stroke-width="1.5" stroke-linejoin="round" />
<polygon points="471.89,223.92 503.2,218.4 503.2,236.2 471.89,242.06" fill="none" stroke="#1b1a1a" stroke-width="1.5" stroke-linejoin="round" />
<polygon points="438.5,229.8 503.2,218.4 503.2,236.2 438.5,248.3" fill="none" stroke="#1b1a1a" stroke-width="1.6" stroke-linejoin="round" />
<polyline points="425.4,218.2 438.5,229.8 503.2,218.4" fill="none" stroke="#1b1a1a" stroke-width="1.7" stroke-linejoin="round" stroke-linecap="round" />
<line x1="425.4" y1="218.2" x2="425.4" y2="238.4" stroke="#1b1a1a" stroke-width="1.0" stroke-linecap="round"/>
<line x1="425.4" y1="238.4" x2="438.5" y2="248.3" stroke="#1b1a1a" stroke-width="1.0" stroke-linecap="round"/>
<polygon points="570,239.01 574,239.01 572.64,248.01 571.36,248.01" fill="#ffffff" stroke="#1b1a1a" stroke-width="1.3" stroke-linejoin="round" />
<polygon points="583,245.45 588.6,245.45 586.7,256.45 584.9,256.45" fill="#ffffff" stroke="#1b1a1a" stroke-width="1.3" stroke-linejoin="round" />
<polygon points="612.6,241.17 617.4,241.17 615.77,251.67 614.23,251.67" fill="#ffffff" stroke="#1b1a1a" stroke-width="1.3" stroke-linejoin="round" />
<polygon points="569.8,218 603.6,211.7 617.5,223.4 583.4,229.7" fill="#e4e5e6" stroke="#1b1a1a" stroke-width="1.0" stroke-linejoin="round" />
<polygon points="569.8,218 583.4,229.7 583.4,246.8 569.8,238.7" fill="#e4e5e6" stroke="#1b1a1a" stroke-width="1.0" stroke-linejoin="round" />
<polygon points="583.4,229.7 617.5,223.4 617.5,241.8 583.4,246.8" fill="#ffffff" stroke="none" stroke-width="0" stroke-linejoin="round" />
<polygon points="596.19,229.54 604.71,227.96 604.01,230.56 596.89,232.14" fill="#1b1a1a" stroke="#1b1a1a" stroke-width="0.6" stroke-linejoin="round" />
<line x1="597.59" y1="230.64" x2="603.31" y2="229.06" stroke="#777777" stroke-width="0.5" stroke-linecap="round"/>
<polygon points="583.4,229.7 617.5,223.4 617.5,241.8 583.4,246.8" fill="none" stroke="#1b1a1a" stroke-width="1.5" stroke-linejoin="round" />
<polygon points="583.4,229.7 617.5,223.4 617.5,241.8 583.4,246.8" fill="none" stroke="#1b1a1a" stroke-width="1.6" stroke-linejoin="round" />
<polyline points="569.8,218 583.4,229.7 617.5,223.4" fill="none" stroke="#1b1a1a" stroke-width="1.7" stroke-linejoin="round" stroke-linecap="round" />
<line x1="569.8" y1="218" x2="569.8" y2="238.7" stroke="#1b1a1a" stroke-width="1.0" stroke-linecap="round"/>
<line x1="569.8" y1="238.7" x2="583.4" y2="246.8" stroke="#1b1a1a" stroke-width="1.0" stroke-linecap="round"/>
<polygon points="42,379.57 46,379.57 44.64,388.07 43.36,388.07" fill="#ffffff" stroke="#1b1a1a" stroke-width="1.3" stroke-linejoin="round" />
<polygon points="54.5,387.21 60.1,387.21 58.2,397.71 56.4,397.71" fill="#ffffff" stroke="#1b1a1a" stroke-width="1.3" stroke-linejoin="round" />
<polygon points="104.8,379.13 109.6,379.13 107.97,387.63 106.43,387.63" fill="#ffffff" stroke="#1b1a1a" stroke-width="1.3" stroke-linejoin="round" />
<polygon points="42.2,304.2 95.8,293.9 108.6,305.4 56.1,314" fill="#e4e5e6" stroke="#1b1a1a" stroke-width="1.0" stroke-linejoin="round" />
<polygon points="42.2,304.2 56.1,314 56.1,388.4 42.2,379.4" fill="#e4e5e6" stroke="#1b1a1a" stroke-width="1.0" stroke-linejoin="round" />
<polygon points="56.1,314 72.22,311.36 72.22,329.6 56.1,332.23" fill="#e4e5e6" stroke="none" stroke-width="0" stroke-linejoin="round" />
<g clip-path="url(#c23)">
<polygon points="41.1,301 57.22,298.36 57.22,316.6 41.1,319.23" fill="#ffffff" stroke="none" stroke-width="0" stroke-linejoin="round" />
<polygon points="41.1,301 57.22,298.36 57.22,316.6 41.1,319.23" fill="none" stroke="#1b1a1a" stroke-width="0.9" stroke-linejoin="round" />
<line x1="72.22" y1="329.6" x2="57.22" y2="316.6" stroke="#1b1a1a" stroke-width="0.9" stroke-linecap="round"/>
</g>
<polygon points="72.22,311.36 93.16,307.93 93.16,326.17 72.22,329.6" fill="#e4e5e6" stroke="none" stroke-width="0" stroke-linejoin="round" />
<g clip-path="url(#c24)">
<polygon points="57.22,298.36 78.16,294.93 78.16,313.17 57.22,316.6" fill="#ffffff" stroke="none" stroke-width="0" stroke-linejoin="round" />
<polygon points="57.22,298.36 78.16,294.93 78.16,313.17 57.22,316.6" fill="none" stroke="#1b1a1a" stroke-width="0.9" stroke-linejoin="round" />
<line x1="93.16" y1="326.17" x2="78.16" y2="313.17" stroke="#1b1a1a" stroke-width="0.9" stroke-linecap="round"/>
</g>
<polygon points="93.16,307.93 108.6,305.4 108.6,323.65 93.16,326.17" fill="#e4e5e6" stroke="none" stroke-width="0" stroke-linejoin="round" />
<g clip-path="url(#c25)">
<polygon points="78.16,294.93 93.6,292.4 93.6,310.65 78.16,313.17" fill="#ffffff" stroke="none" stroke-width="0" stroke-linejoin="round" />
<polygon points="78.16,294.93 93.6,292.4 93.6,310.65 78.16,313.17" fill="none" stroke="#1b1a1a" stroke-width="0.9" stroke-linejoin="round" />
<line x1="108.6" y1="323.65" x2="93.6" y2="310.65" stroke="#1b1a1a" stroke-width="0.9" stroke-linecap="round"/>
</g>
<polygon points="56.1,332.23 77.1,328.8 77.1,348.15 56.1,351.57" fill="#e4e5e6" stroke="none" stroke-width="0" stroke-linejoin="round" />
<g clip-path="url(#c26)">
<polygon points="41.1,319.23 62.1,315.8 62.1,335.15 41.1,338.57" fill="#ffffff" stroke="none" stroke-width="0" stroke-linejoin="round" />
<polygon points="41.1,319.23 62.1,315.8 62.1,335.15 41.1,338.57" fill="none" stroke="#1b1a1a" stroke-width="0.9" stroke-linejoin="round" />
<line x1="77.1" y1="348.15" x2="62.1" y2="335.15" stroke="#1b1a1a" stroke-width="0.9" stroke-linecap="round"/>
</g>
<polygon points="77.1,328.8 108.6,323.65 108.6,343.02 77.1,348.15" fill="#ffffff" stroke="none" stroke-width="0" stroke-linejoin="round" />
<polygon points="88.91,327.47 96.79,326.18 96.09,328.78 89.61,330.07" fill="#1b1a1a" stroke="#1b1a1a" stroke-width="0.6" stroke-linejoin="round" />
<line x1="90.31" y1="328.57" x2="95.39" y2="327.28" stroke="#777777" stroke-width="0.5" stroke-linecap="round"/>
<polygon points="56.1,351.57 72.22,348.95 72.22,367.63 56.1,370.25" fill="#e4e5e6" stroke="none" stroke-width="0" stroke-linejoin="round" />
<g clip-path="url(#c27)">
<polygon points="41.1,338.57 57.22,335.95 57.22,354.63 41.1,357.25" fill="#ffffff" stroke="none" stroke-width="0" stroke-linejoin="round" />
<polygon points="41.1,338.57 57.22,335.95 57.22,354.63 41.1,357.25" fill="none" stroke="#1b1a1a" stroke-width="0.9" stroke-linejoin="round" />
<line x1="72.22" y1="367.63" x2="57.22" y2="354.63" stroke="#1b1a1a" stroke-width="0.9" stroke-linecap="round"/>
</g>
<polygon points="72.22,348.95 93.16,345.54 93.16,364.23 72.22,367.63" fill="#e4e5e6" stroke="none" stroke-width="0" stroke-linejoin="round" />
<g clip-path="url(#c28)">
<polygon points="57.22,335.95 78.16,332.54 78.16,351.23 57.22,354.63" fill="#ffffff" stroke="none" stroke-width="0" stroke-linejoin="round" />
<polygon points="57.22,335.95 78.16,332.54 78.16,351.23 57.22,354.63" fill="none" stroke="#1b1a1a" stroke-width="0.9" stroke-linejoin="round" />
<line x1="93.16" y1="364.23" x2="78.16" y2="351.23" stroke="#1b1a1a" stroke-width="0.9" stroke-linecap="round"/>
</g>
<polygon points="93.16,345.54 108.6,343.02 108.6,361.72 93.16,364.23" fill="#e4e5e6" stroke="none" stroke-width="0" stroke-linejoin="round" />
<g clip-path="url(#c29)">
<polygon points="78.16,332.54 93.6,330.02 93.6,348.72 78.16,351.23" fill="#ffffff" stroke="none" stroke-width="0" stroke-linejoin="round" />
<polygon points="78.16,332.54 93.6,330.02 93.6,348.72 78.16,351.23" fill="none" stroke="#1b1a1a" stroke-width="0.9" stroke-linejoin="round" />
<line x1="108.6" y1="361.72" x2="93.6" y2="348.72" stroke="#1b1a1a" stroke-width="0.9" stroke-linecap="round"/>
</g>
<polygon points="56.1,370.25 88.23,365.03 88.23,383.2 56.1,388.4" fill="#ffffff" stroke="none" stroke-width="0" stroke-linejoin="round" />
<polygon points="68.15,368.89 76.18,367.59 75.48,370.19 68.85,371.49" fill="#1b1a1a" stroke="#1b1a1a" stroke-width="0.6" stroke-linejoin="round" />
<line x1="69.55" y1="369.99" x2="74.78" y2="368.69" stroke="#777777" stroke-width="0.5" stroke-linecap="round"/>
<polygon points="88.23,365.03 108.6,361.72 108.6,379.9 88.23,383.2" fill="#e4e5e6" stroke="none" stroke-width="0" stroke-linejoin="round" />
<g clip-path="url(#c30)">
<polygon points="73.23,352.03 93.6,348.72 93.6,366.9 73.23,370.2" fill="#ffffff" stroke="none" stroke-width="0" stroke-linejoin="round" />
<polygon points="73.23,352.03 93.6,348.72 93.6,366.9 73.23,370.2" fill="none" stroke="#1b1a1a" stroke-width="0.9" stroke-linejoin="round" />
<line x1="108.6" y1="379.9" x2="93.6" y2="366.9" stroke="#1b1a1a" stroke-width="0.9" stroke-linecap="round"/>
</g>
<polygon points="56.1,314 72.22,311.36 72.22,329.6 56.1,332.23" fill="none" stroke="#1b1a1a" stroke-width="1.5" stroke-linejoin="round" />
<polygon points="72.22,311.36 93.16,307.93 93.16,326.17 72.22,329.6" fill="none" stroke="#1b1a1a" stroke-width="1.5" stroke-linejoin="round" />
<polygon points="93.16,307.93 108.6,305.4 108.6,323.65 93.16,326.17" fill="none" stroke="#1b1a1a" stroke-width="1.5" stroke-linejoin="round" />
<polygon points="56.1,332.23 77.1,328.8 77.1,348.15 56.1,351.57" fill="none" stroke="#1b1a1a" stroke-width="1.5" stroke-linejoin="round" />
<polygon points="77.1,328.8 108.6,323.65 108.6,343.02 77.1,348.15" fill="none" stroke="#1b1a1a" stroke-width="1.5" stroke-linejoin="round" />
<polygon points="56.1,351.57 72.22,348.95 72.22,367.63 56.1,370.25" fill="none" stroke="#1b1a1a" stroke-width="1.5" stroke-linejoin="round" />
<polygon points="72.22,348.95 93.16,345.54 93.16,364.23 72.22,367.63" fill="none" stroke="#1b1a1a" stroke-width="1.5" stroke-linejoin="round" />
<polygon points="93.16,345.54 108.6,343.02 108.6,361.72 93.16,364.23" fill="none" stroke="#1b1a1a" stroke-width="1.5" stroke-linejoin="round" />
<polygon points="56.1,370.25 88.23,365.03 88.23,383.2 56.1,388.4" fill="none" stroke="#1b1a1a" stroke-width="1.5" stroke-linejoin="round" />
<polygon points="88.23,365.03 108.6,361.72 108.6,379.9 88.23,383.2" fill="none" stroke="#1b1a1a" stroke-width="1.5" stroke-linejoin="round" />
<polygon points="56.1,314 108.6,305.4 108.6,379.9 56.1,388.4" fill="none" stroke="#1b1a1a" stroke-width="1.6" stroke-linejoin="round" />
<polyline points="42.2,304.2 56.1,314 108.6,305.4" fill="none" stroke="#1b1a1a" stroke-width="1.7" stroke-linejoin="round" stroke-linecap="round" />
<line x1="42.2" y1="304.2" x2="42.2" y2="379.4" stroke="#1b1a1a" stroke-width="1.0" stroke-linecap="round"/>
<line x1="42.2" y1="379.4" x2="56.1" y2="388.4" stroke="#1b1a1a" stroke-width="1.0" stroke-linecap="round"/>
<polygon points="154.9,381.51 158.9,381.51 157.54,389.51 156.26,389.51" fill="#ffffff" stroke="#1b1a1a" stroke-width="1.3" stroke-linejoin="round" />
<polygon points="167.9,387.38 173.5,387.38 171.6,396.88 169.8,396.88" fill="#ffffff" stroke="#1b1a1a" stroke-width="1.3" stroke-linejoin="round" />
<polygon points="250.4,373.13 255.2,373.13 253.57,382.13 252.03,382.13" fill="#ffffff" stroke="#1b1a1a" stroke-width="1.3" stroke-linejoin="round" />
<polygon points="154.7,325.5 241.9,309.6 255.3,320.3 168.3,336.7" fill="#e4e5e6" stroke="#1b1a1a" stroke-width="1.0" stroke-linejoin="round" />
<polygon points="154.7,325.5 168.3,336.7 168.3,388.8 154.7,381.3" fill="#e4e5e6" stroke="#1b1a1a" stroke-width="1.0" stroke-linejoin="round" />
<polygon points="168.3,336.7 195.97,331.48 195.97,357.74 168.3,362.75" fill="#e4e5e6" stroke="none" stroke-width="0" stroke-linejoin="round" />
<g clip-path="url(#c31)">
<polygon points="153.8,325 181.47,319.78 181.47,346.04 153.8,351.05" fill="#e9eaeb" stroke="none" stroke-width="0" stroke-linejoin="round" />
<polygon points="153.8,325 181.47,319.78 181.47,346.04 153.8,351.05" fill="none" stroke="#1b1a1a" stroke-width="0.9" stroke-linejoin="round" />
<line x1="195.97" y1="357.74" x2="181.47" y2="346.04" stroke="#1b1a1a" stroke-width="0.9" stroke-linecap="round"/>
</g>
<polygon points="168.3,362.75 195.97,357.74 195.97,384 168.3,388.8" fill="#e4e5e6" stroke="none" stroke-width="0" stroke-linejoin="round" />
<g clip-path="url(#c32)">
<polygon points="153.8,351.05 181.47,346.04 181.47,372.3 153.8,377.1" fill="#e9eaeb" stroke="none" stroke-width="0" stroke-linejoin="round" />
<polygon points="153.8,351.05 181.47,346.04 181.47,372.3 153.8,377.1" fill="none" stroke="#1b1a1a" stroke-width="0.9" stroke-linejoin="round" />
<line x1="195.97" y1="384" x2="181.47" y2="372.3" stroke="#1b1a1a" stroke-width="0.9" stroke-linecap="round"/>
</g>
<polygon points="195.97,331.48 228.16,325.42 228.16,342.38 195.97,348.29" fill="#ffffff" stroke="none" stroke-width="0" stroke-linejoin="round" />
<polygon points="207.23,329.96 216.89,328.14 216.19,330.74 207.93,332.56" fill="#1b1a1a" stroke="#1b1a1a" stroke-width="0.6" stroke-linejoin="round" />
<line x1="208.63" y1="331.06" x2="215.49" y2="329.24" stroke="#777777" stroke-width="0.5" stroke-linecap="round"/>
<polygon points="195.97,348.29 228.16,342.38 228.16,360.13 195.97,365.88" fill="#ffffff" stroke="none" stroke-width="0" stroke-linejoin="round" />
<polygon points="207.23,346.82 216.89,345.04 216.19,347.64 207.93,349.42" fill="#1b1a1a" stroke="#1b1a1a" stroke-width="0.6" stroke-linejoin="round" />
<line x1="208.63" y1="347.92" x2="215.49" y2="346.14" stroke="#777777" stroke-width="0.5" stroke-linecap="round"/>
<polygon points="195.97,365.88 228.16,360.13 228.16,378.41 195.97,384" fill="#ffffff" stroke="none" stroke-width="0" stroke-linejoin="round" />
<polygon points="207.23,364.47 216.89,362.74 216.19,365.34 207.93,367.07" fill="#1b1a1a" stroke="#1b1a1a" stroke-width="0.6" stroke-linejoin="round" />
<line x1="208.63" y1="365.57" x2="215.49" y2="363.84" stroke="#777777" stroke-width="0.5" stroke-linecap="round"/>
<polygon points="228.16,325.42 255.3,320.3 255.3,346.2 228.16,351.12" fill="#e4e5e6" stroke="none" stroke-width="0" stroke-linejoin="round" />
<g clip-path="url(#c33)">
<polygon points="213.66,313.72 240.8,308.6 240.8,334.5 213.66,339.42" fill="#e9eaeb" stroke="none" stroke-width="0" stroke-linejoin="round" />
<polygon points="213.66,313.72 240.8,308.6 240.8,334.5 213.66,339.42" fill="none" stroke="#1b1a1a" stroke-width="0.9" stroke-linejoin="round" />
<line x1="255.3" y1="346.2" x2="240.8" y2="334.5" stroke="#1b1a1a" stroke-width="0.9" stroke-linecap="round"/>
</g>
<polygon points="228.16,351.12 255.3,346.2 255.3,373.7 228.16,378.41" fill="#e4e5e6" stroke="none" stroke-width="0" stroke-linejoin="round" />
<g clip-path="url(#c34)">
<polygon points="213.66,339.42 240.8,334.5 240.8,362 213.66,366.71" fill="#e9eaeb" stroke="none" stroke-width="0" stroke-linejoin="round" />
<polygon points="213.66,339.42 240.8,334.5 240.8,362 213.66,366.71" fill="none" stroke="#1b1a1a" stroke-width="0.9" stroke-linejoin="round" />
<line x1="255.3" y1="373.7" x2="240.8" y2="362" stroke="#1b1a1a" stroke-width="0.9" stroke-linecap="round"/>
</g>
<polygon points="168.3,336.7 195.97,331.48 195.97,357.74 168.3,362.75" fill="none" stroke="#1b1a1a" stroke-width="1.5" stroke-linejoin="round" />
<polygon points="168.3,362.75 195.97,357.74 195.97,384 168.3,388.8" fill="none" stroke="#1b1a1a" stroke-width="1.5" stroke-linejoin="round" />
<polygon points="195.97,331.48 228.16,325.42 228.16,342.38 195.97,348.29" fill="none" stroke="#1b1a1a" stroke-width="1.5" stroke-linejoin="round" />
<polygon points="195.97,348.29 228.16,342.38 228.16,360.13 195.97,365.88" fill="none" stroke="#1b1a1a" stroke-width="1.5" stroke-linejoin="round" />
<polygon points="195.97,365.88 228.16,360.13 228.16,378.41 195.97,384" fill="none" stroke="#1b1a1a" stroke-width="1.5" stroke-linejoin="round" />
<polygon points="228.16,325.42 255.3,320.3 255.3,346.2 228.16,351.12" fill="none" stroke="#1b1a1a" stroke-width="1.5" stroke-linejoin="round" />
<polygon points="228.16,351.12 255.3,346.2 255.3,373.7 228.16,378.41" fill="none" stroke="#1b1a1a" stroke-width="1.5" stroke-linejoin="round" />
<polygon points="168.3,336.7 255.3,320.3 255.3,373.7 168.3,388.8" fill="none" stroke="#1b1a1a" stroke-width="1.6" stroke-linejoin="round" />
<polyline points="154.7,325.5 168.3,336.7 255.3,320.3" fill="none" stroke="#1b1a1a" stroke-width="1.7" stroke-linejoin="round" stroke-linecap="round" />
<line x1="154.7" y1="325.5" x2="154.7" y2="381.3" stroke="#1b1a1a" stroke-width="1.0" stroke-linecap="round"/>
<line x1="154.7" y1="381.3" x2="168.3" y2="388.8" stroke="#1b1a1a" stroke-width="1.0" stroke-linecap="round"/>
<polygon points="301.1,379.96 305.1,379.96 303.74,388.46 302.46,388.46" fill="#ffffff" stroke="#1b1a1a" stroke-width="1.3" stroke-linejoin="round" />
<polygon points="314.2,387.24 319.8,387.24 317.9,396.74 316.1,396.74" fill="#ffffff" stroke="#1b1a1a" stroke-width="1.3" stroke-linejoin="round" />
<polygon points="363.7,379.78 368.5,379.78 366.87,388.78 365.33,388.78" fill="#ffffff" stroke="#1b1a1a" stroke-width="1.3" stroke-linejoin="round" />
<polygon points="300.9,324.8 354.4,314.5 368.6,326.2 314.6,336" fill="#e4e5e6" stroke="#1b1a1a" stroke-width="1.0" stroke-linejoin="round" />
<polygon points="300.9,324.8 314.6,336 314.6,388.6 300.9,379.5" fill="#e4e5e6" stroke="#1b1a1a" stroke-width="1.0" stroke-linejoin="round" />
<polygon points="314.6,336 368.6,326.2 368.6,344.52 314.6,353.78" fill="#ffffff" stroke="none" stroke-width="0" stroke-linejoin="round" />
<polygon points="337.01,332.53 346.19,330.87 345.49,333.47 337.71,335.13" fill="#1b1a1a" stroke="#1b1a1a" stroke-width="0.6" stroke-linejoin="round" />
<line x1="338.41" y1="333.63" x2="344.79" y2="331.97" stroke="#777777" stroke-width="0.5" stroke-linecap="round"/>
<polygon points="314.6,353.78 368.6,344.52 368.6,362.08 314.6,370.82" fill="#ffffff" stroke="none" stroke-width="0" stroke-linejoin="round" />
<polygon points="337.01,350.54 346.19,348.96 345.49,351.56 337.71,353.14" fill="#1b1a1a" stroke="#1b1a1a" stroke-width="0.6" stroke-linejoin="round" />
<line x1="338.41" y1="351.64" x2="344.79" y2="350.06" stroke="#777777" stroke-width="0.5" stroke-linecap="round"/>
<polygon points="314.6,370.82 368.6,362.08 368.6,380.4 314.6,388.6" fill="#ffffff" stroke="none" stroke-width="0" stroke-linejoin="round" />
<polygon points="337.01,367.79 346.19,366.31 345.49,368.91 337.71,370.39" fill="#1b1a1a" stroke="#1b1a1a" stroke-width="0.6" stroke-linejoin="round" />
<line x1="338.41" y1="368.89" x2="344.79" y2="367.41" stroke="#777777" stroke-width="0.5" stroke-linecap="round"/>
<polygon points="314.6,336 368.6,326.2 368.6,344.52 314.6,353.78" fill="none" stroke="#1b1a1a" stroke-width="1.5" stroke-linejoin="round" />
<polygon points="314.6,353.78 368.6,344.52 368.6,362.08 314.6,370.82" fill="none" stroke="#1b1a1a" stroke-width="1.5" stroke-linejoin="round" />
<polygon points="314.6,370.82 368.6,362.08 368.6,380.4 314.6,388.6" fill="none" stroke="#1b1a1a" stroke-width="1.5" stroke-linejoin="round" />
<polygon points="314.6,336 368.6,326.2 368.6,380.4 314.6,388.6" fill="none" stroke="#1b1a1a" stroke-width="1.6" stroke-linejoin="round" />
<polyline points="300.9,324.8 314.6,336 368.6,326.2" fill="none" stroke="#1b1a1a" stroke-width="1.7" stroke-linejoin="round" stroke-linecap="round" />
<line x1="300.9" y1="324.8" x2="300.9" y2="379.5" stroke="#1b1a1a" stroke-width="1.0" stroke-linecap="round"/>
<line x1="300.9" y1="379.5" x2="314.6" y2="388.6" stroke="#1b1a1a" stroke-width="1.0" stroke-linecap="round"/>
<polygon points="436.4,327.4 490.9,317.8 490.9,356.1 436.4,366.3" fill="#f0f0f0" stroke="#1b1a1a" stroke-width="1.2" stroke-linejoin="round" />
<polygon points="440.6,331.6 487.6,322.5 487.6,353.1 440.6,361.5" fill="#1592d8" stroke="#1b1a1a" stroke-width="0.7" stroke-linejoin="round" />
<line x1="436.6" y1="327.4" x2="436.6" y2="366.3" stroke="#1b1a1a" stroke-width="2.4" stroke-linecap="round"/>
<line x1="436.4" y1="366.3" x2="490.9" y2="356.1" stroke="#1b1a1a" stroke-width="1.2" stroke-linecap="round"/>
<polygon points="566,305 597.5,299 597.5,393 566,398.2" fill="#e4e5e6" stroke="#1b1a1a" stroke-width="1.5" stroke-linejoin="round" />
<polygon points="598.2,299 620.8,295 620.8,389 598.2,392.6" fill="#1592d8" stroke="#1b1a1a" stroke-width="1.5" stroke-linejoin="round" />
<polyline points="566,305 597.5,299 620.8,295" fill="none" stroke="#1b1a1a" stroke-width="1.9" stroke-linejoin="round" stroke-linecap="round" />
<line x1="597.8" y1="299" x2="597.8" y2="393" stroke="#1b1a1a" stroke-width="1.8" stroke-linecap="round"/>
<line x1="566.2" y1="305" x2="566.2" y2="398.2" stroke="#1b1a1a" stroke-width="1.8" stroke-linecap="round"/>
<path d="M577.9,314.2 C577.2,317 575.6,319 574.9,321 L578.6,321.8" fill="none" stroke="#1b1a1a" stroke-width="2.0" stroke-linecap="round" stroke-linejoin="round"/>
<path d="M591.2,311.3 C590.5,314.2 588.7,316.5 588,318.4 L591.7,319.3" fill="none" stroke="#1b1a1a" stroke-width="2.0" stroke-linecap="round" stroke-linejoin="round"/>
<path d="M574.3,364.4 L576.3,361.6 L578.4,364.6 Z" fill="#1b1a1a" stroke="#1b1a1a" stroke-width="1.6" stroke-linejoin="round"/>
<path d="M587.1,362 L589.1,359.1 L591.7,361.5 Z" fill="#1b1a1a" stroke="#1b1a1a" stroke-width="1.6" stroke-linejoin="round"/>
<polygon points="98.6,450 115.6,446.4 115.6,497.3 98.6,483.6" fill="#e4e5e6" stroke="#1b1a1a" stroke-width="1.0" stroke-linejoin="round" />
<line x1="115.6" y1="446.4" x2="115.6" y2="497.3" stroke="#1b1a1a" stroke-width="1.6" stroke-linecap="round"/>
<polygon points="35.4,444 52.6,458 52.6,508.3 35.4,494.9" fill="#e4e5e6" stroke="#1b1a1a" stroke-width="1.0" stroke-linejoin="round" />
<line x1="52.6" y1="458" x2="52.6" y2="508.3" stroke="#1b1a1a" stroke-width="1.8" stroke-linecap="round"/>
<polygon points="53.5,459.5 114.8,448.6 114.8,454.3 53.5,465.2" fill="#ffffff" stroke="#1b1a1a" stroke-width="1.0" stroke-linejoin="round" />
<line x1="84.2" y1="454" x2="84.2" y2="459.8" stroke="#1b1a1a" stroke-width="1.0" stroke-linecap="round"/>
<polygon points="35.4,443.5 99.6,431.4 115.6,445.9 52.6,457.5" fill="#e4e5e6" stroke="#1b1a1a" stroke-width="1.0" stroke-linejoin="round" />
<polyline points="35.4,443.5 52.6,457.5 115.6,445.9" fill="none" stroke="#1b1a1a" stroke-width="2.1" stroke-linejoin="round" stroke-linecap="round" />
<polygon points="206.8,488.6 229.9,507.6 229.9,510.6 206.8,491.6" fill="#ffffff" stroke="#1b1a1a" stroke-width="0.9" stroke-linejoin="round" />
<polygon points="229.9,507.6 251,504 251,507 229.9,510.6" fill="#ffffff" stroke="#1b1a1a" stroke-width="0.9" stroke-linejoin="round" />
<polygon points="203.2,447.2 229.1,468.4 229.1,505.9 203.2,484.7" fill="#e4e5e6" stroke="#1b1a1a" stroke-width="1.0" stroke-linejoin="round" />
<polygon points="216.4,458 229.1,468.4 229.1,486.7 216.4,476.3" fill="#ffffff" stroke="none" stroke-width="0" stroke-linejoin="round" />
<line x1="204.4" y1="465.2" x2="215.2" y2="464" stroke="#1b1a1a" stroke-width="0.8" stroke-linecap="round"/>
<line x1="204.4" y1="483.9" x2="215.2" y2="482.3" stroke="#1b1a1a" stroke-width="0.8" stroke-linecap="round"/>
<line x1="217.2" y1="494.3" x2="228.3" y2="492.3" stroke="#1b1a1a" stroke-width="0.8" stroke-linecap="round"/>
<line x1="216.4" y1="455" x2="216.4" y2="495.5" stroke="#1b1a1a" stroke-width="1.5" stroke-linecap="round"/>
<line x1="203.2" y1="465.4" x2="229.1" y2="486.7" stroke="#1b1a1a" stroke-width="1.6" stroke-linecap="round"/>
<polygon points="203.2,447.2 229.1,468.4 229.1,505.9 203.2,484.7" fill="none" stroke="#1b1a1a" stroke-width="1.5" stroke-linejoin="round" />
<polygon points="219.3,463.8 225.5,467.6 225.2,469.2 219,465.6" fill="#1b1a1a" stroke="#1b1a1a" stroke-width="0.9" stroke-linejoin="round" />
<polygon points="214.5,456 240,450.8 256.3,464.4 229.1,468.4" fill="#e4e5e6" stroke="#1b1a1a" stroke-width="1.0" stroke-linejoin="round" />
<line x1="214.5" y1="456" x2="229.1" y2="468.4" stroke="#1b1a1a" stroke-width="1.5" stroke-linecap="round"/>
<polygon points="229.1,468.4 256.3,464.4 256.3,501.6 229.1,505.9" fill="#e4e5e6" stroke="#1b1a1a" stroke-width="1.0" stroke-linejoin="round" />
<line x1="229.1" y1="468.4" x2="229.1" y2="505.9" stroke="#1b1a1a" stroke-width="1.6" stroke-linecap="round"/>
<line x1="229.1" y1="468.4" x2="256.3" y2="464.4" stroke="#1b1a1a" stroke-width="1.5" stroke-linecap="round"/>
<polygon points="149.9,448.4 166.9,462.7 167.8,513.9 149.9,500.4" fill="#e4e5e6" stroke="#1b1a1a" stroke-width="1.0" stroke-linejoin="round" />
<line x1="166.9" y1="462.7" x2="167.8" y2="513.9" stroke="#1b1a1a" stroke-width="1.8" stroke-linecap="round"/>
<polygon points="231.5,449.5 235.6,449.5 235.4,456.3 233.8,456.3" fill="#e4e5e6" stroke="#1b1a1a" stroke-width="1.0" stroke-linejoin="round" />
<polygon points="149.9,448.4 229.8,434 246.9,448.4 166.9,462.7" fill="#e4e5e6" stroke="#1b1a1a" stroke-width="1.0" stroke-linejoin="round" />
<polyline points="149.9,448.4 166.9,462.7 246.9,448.4" fill="none" stroke="#1b1a1a" stroke-width="1.8" stroke-linejoin="round" stroke-linecap="round" />
<polygon points="274.4,494.77 278.4,494.77 277.04,502.27 275.76,502.27" fill="#ffffff" stroke="#1b1a1a" stroke-width="1.3" stroke-linejoin="round" />
<polygon points="286.6,500.54 292.2,500.54 290.3,510.04 288.5,510.04" fill="#ffffff" stroke="#1b1a1a" stroke-width="1.3" stroke-linejoin="round" />
<polygon points="332,493.78 336.8,493.78 335.17,502.28 333.63,502.28" fill="#ffffff" stroke="#1b1a1a" stroke-width="1.3" stroke-linejoin="round" />
<polygon points="274.2,457.9 303.2,452.5 336.9,458.4 287,468.4" fill="#e4e5e6" stroke="#1b1a1a" stroke-width="1.0" stroke-linejoin="round" />
<polygon points="274.2,457.9 287,468.4 287,501.9 274.2,494.5" fill="#e4e5e6" stroke="#1b1a1a" stroke-width="1.0" stroke-linejoin="round" />
<polygon points="287,468.4 311.95,463.4 311.95,479.73 287,484.14" fill="#e4e5e6" stroke="none" stroke-width="0" stroke-linejoin="round" />
<g clip-path="url(#c35)">
<polygon points="274.5,458.9 299.45,453.9 299.45,470.23 274.5,474.64" fill="#ffffff" stroke="none" stroke-width="0" stroke-linejoin="round" />
<polygon points="274.5,458.9 299.45,453.9 299.45,470.23 274.5,474.64" fill="none" stroke="#1b1a1a" stroke-width="0.9" stroke-linejoin="round" />
<line x1="311.95" y1="479.73" x2="299.45" y2="470.23" stroke="#1b1a1a" stroke-width="0.9" stroke-linecap="round"/>
</g>
<polygon points="287,484.14 311.95,479.73 311.95,498.15 287,501.9" fill="#ffffff" stroke="none" stroke-width="0" stroke-linejoin="round" />
<polygon points="295.73,483.2 303.22,481.88 302.52,484.48 296.43,485.8" fill="#1b1a1a" stroke="#1b1a1a" stroke-width="0.6" stroke-linejoin="round" />
<line x1="297.13" y1="484.3" x2="301.82" y2="482.98" stroke="#777777" stroke-width="0.5" stroke-linecap="round"/>
<polygon points="311.95,463.4 336.9,458.4 336.9,474.96 311.95,479.38" fill="#e4e5e6" stroke="none" stroke-width="0" stroke-linejoin="round" />
<g clip-path="url(#c36)">
<polygon points="299.45,453.9 324.4,448.9 324.4,465.46 299.45,469.88" fill="#ffffff" stroke="none" stroke-width="0" stroke-linejoin="round" />
<polygon points="299.45,453.9 324.4,448.9 324.4,465.46 299.45,469.88" fill="none" stroke="#1b1a1a" stroke-width="0.9" stroke-linejoin="round" />
<line x1="336.9" y1="474.96" x2="324.4" y2="465.46" stroke="#1b1a1a" stroke-width="0.9" stroke-linecap="round"/>
</g>
<polygon points="311.95,479.38 336.9,474.96 336.9,494.4 311.95,498.15" fill="#e4e5e6" stroke="none" stroke-width="0" stroke-linejoin="round" />
<g clip-path="url(#c37)">
<polygon points="299.45,469.88 324.4,465.46 324.4,484.9 299.45,488.65" fill="#e9eaeb" stroke="none" stroke-width="0" stroke-linejoin="round" />
<polygon points="299.45,469.88 324.4,465.46 324.4,484.9 299.45,488.65" fill="none" stroke="#1b1a1a" stroke-width="0.9" stroke-linejoin="round" />
<line x1="336.9" y1="494.4" x2="324.4" y2="484.9" stroke="#1b1a1a" stroke-width="0.9" stroke-linecap="round"/>
</g>
<polygon points="287,468.4 311.95,463.4 311.95,479.73 287,484.14" fill="none" stroke="#1b1a1a" stroke-width="1.5" stroke-linejoin="round" />
<polygon points="287,484.14 311.95,479.73 311.95,498.15 287,501.9" fill="none" stroke="#1b1a1a" stroke-width="1.5" stroke-linejoin="round" />
<polygon points="311.95,463.4 336.9,458.4 336.9,474.96 311.95,479.38" fill="none" stroke="#1b1a1a" stroke-width="1.5" stroke-linejoin="round" />
<polygon points="311.95,479.38 336.9,474.96 336.9,494.4 311.95,498.15" fill="none" stroke="#1b1a1a" stroke-width="1.5" stroke-linejoin="round" />
<polygon points="287,468.4 336.9,458.4 336.9,494.4 287,501.9" fill="none" stroke="#1b1a1a" stroke-width="1.6" stroke-linejoin="round" />
<polyline points="274.2,457.9 287,468.4 336.9,458.4" fill="none" stroke="#1b1a1a" stroke-width="1.7" stroke-linejoin="round" stroke-linecap="round" />
<line x1="274.2" y1="457.9" x2="274.2" y2="494.5" stroke="#1b1a1a" stroke-width="1.0" stroke-linecap="round"/>
<line x1="274.2" y1="494.5" x2="287" y2="501.9" stroke="#1b1a1a" stroke-width="1.0" stroke-linecap="round"/>
<polygon points="372.5,447.8 389.3,444.5 389.3,495.7 372.5,482.5" fill="#e4e5e6" stroke="#1b1a1a" stroke-width="1.0" stroke-linejoin="round" />
<line x1="389.3" y1="444.5" x2="389.3" y2="495.7" stroke="#1b1a1a" stroke-width="1.8" stroke-linecap="round"/>
<polygon points="298.7,445 373.7,431 389.3,444.2 315.9,458.4" fill="#e4e5e6" stroke="#1b1a1a" stroke-width="1.0" stroke-linejoin="round" />
<polyline points="298.7,445 315.9,458.4 389.3,444.2" fill="none" stroke="#1b1a1a" stroke-width="1.7" stroke-linejoin="round" stroke-linecap="round" />
<line x1="317" y1="458.2" x2="318" y2="461" stroke="#1b1a1a" stroke-width="1.2" stroke-linecap="round"/>
<polygon points="464.9,455 482.2,451.8 482.2,493.5 464.9,483.1" fill="#e4e5e6" stroke="#1b1a1a" stroke-width="1.0" stroke-linejoin="round" />
<polygon points="465.2,482.6 469.2,482.6 467.84,489.9 466.56,489.9" fill="#ffffff" stroke="#1b1a1a" stroke-width="1.3" stroke-linejoin="round" />
<polygon points="480.8,492.5 486.4,492.5 484.5,502.9 482.7,502.9" fill="#ffffff" stroke="#1b1a1a" stroke-width="1.3" stroke-linejoin="round" />
<polygon points="509.3,488.6 514.1,488.6 512.47,497.2 510.93,497.2" fill="#ffffff" stroke="#1b1a1a" stroke-width="1.3" stroke-linejoin="round" />
<polygon points="464.9,455 482.2,451.8 482.2,493.5 464.9,483.1" fill="none" stroke="#1b1a1a" stroke-width="1.0" stroke-linejoin="round" />
<polygon points="482.2,451.5 514,446 514,454.81 482.2,460.11" fill="#e4e5e6" stroke="none" stroke-width="0" stroke-linejoin="round" />
<g clip-path="url(#c38)">
<polygon points="473.2,442.5 505,437 505,445.81 473.2,451.11" fill="#ffffff" stroke="none" stroke-width="0" stroke-linejoin="round" />
<polygon points="473.2,442.5 505,437 505,445.81 473.2,451.11" fill="none" stroke="#1b1a1a" stroke-width="0.9" stroke-linejoin="round" />
<line x1="514" y1="454.81" x2="505" y2="445.81" stroke="#1b1a1a" stroke-width="0.9" stroke-linecap="round"/>
</g>
<polygon points="482.2,460.11 514,454.81 514,471.8 482.2,476.7" fill="#ffffff" stroke="none" stroke-width="0" stroke-linejoin="round" />
<polygon points="494.12,458.72 502.08,457.4 501.38,460 494.82,461.32" fill="#1b1a1a" stroke="#1b1a1a" stroke-width="0.6" stroke-linejoin="round" />
<line x1="495.52" y1="459.82" x2="500.68" y2="458.5" stroke="#777777" stroke-width="0.5" stroke-linecap="round"/>
<polygon points="482.2,476.7 514,471.8 514,489 482.2,493.5" fill="#ffffff" stroke="none" stroke-width="0" stroke-linejoin="round" />
<polygon points="494.12,475.46 502.08,474.24 501.38,476.84 494.82,478.06" fill="#1b1a1a" stroke="#1b1a1a" stroke-width="0.6" stroke-linejoin="round" />
<line x1="495.52" y1="476.56" x2="500.68" y2="475.34" stroke="#777777" stroke-width="0.5" stroke-linecap="round"/>
<polygon points="482.2,451.5 514,446 514,454.81 482.2,460.11" fill="none" stroke="#1b1a1a" stroke-width="1.5" stroke-linejoin="round" />
<polygon points="482.2,460.11 514,454.81 514,471.8 482.2,476.7" fill="none" stroke="#1b1a1a" stroke-width="1.5" stroke-linejoin="round" />
<polygon points="482.2,476.7 514,471.8 514,489 482.2,493.5" fill="none" stroke="#1b1a1a" stroke-width="1.5" stroke-linejoin="round" />
<polygon points="482.2,451.5 514,446 514,489 482.2,493.5" fill="none" stroke="#1b1a1a" stroke-width="1.6" stroke-linejoin="round" />
<polygon points="413.1,447.5 429.2,460.9 429.2,510 413.1,504" fill="#e4e5e6" stroke="#1b1a1a" stroke-width="1.0" stroke-linejoin="round" />
<line x1="429.2" y1="460.9" x2="429.2" y2="510" stroke="#1b1a1a" stroke-width="1.8" stroke-linecap="round"/>
<polygon points="413.1,447.5 498.4,431.3 514.6,445.7 429.2,460.9" fill="#e4e5e6" stroke="#1b1a1a" stroke-width="1.0" stroke-linejoin="round" />
<polyline points="413.1,447.5 429.2,460.9 514.6,445.7" fill="none" stroke="#1b1a1a" stroke-width="1.8" stroke-linejoin="round" stroke-linecap="round" />
<polygon points="561,490.3 565,490.3 563.64,498.1 562.36,498.1" fill="#ffffff" stroke="#1b1a1a" stroke-width="1.3" stroke-linejoin="round" />
<polygon points="572.7,498.5 578.3,498.5 576.4,508.5 574.6,508.5" fill="#ffffff" stroke="#1b1a1a" stroke-width="1.3" stroke-linejoin="round" />
<polygon points="620.7,490.9 625.3,490.9 623.74,499.3 622.26,499.3" fill="#ffffff" stroke="#1b1a1a" stroke-width="1.3" stroke-linejoin="round" />
<polygon points="560.8,471 574.6,481.6 574.6,499.6 560.8,490.8" fill="#e4e5e6" stroke="#1b1a1a" stroke-width="1.0" stroke-linejoin="round" />
<polygon points="574.6,481.6 599.39,477.07 599.39,495.7 574.6,499.6" fill="#e4e5e6" stroke="none" stroke-width="0" stroke-linejoin="round" />
<g clip-path="url(#c39)">
<polygon points="563.1,472.6 587.89,468.07 587.89,486.7 563.1,490.6" fill="#e9eaeb" stroke="none" stroke-width="0" stroke-linejoin="round" />
<polygon points="563.1,472.6 587.89,468.07 587.89,486.7 563.1,490.6" fill="none" stroke="#1b1a1a" stroke-width="0.9" stroke-linejoin="round" />
<line x1="599.39" y1="495.7" x2="587.89" y2="486.7" stroke="#1b1a1a" stroke-width="0.9" stroke-linecap="round"/>
</g>
<polygon points="599.39,477.07 625.5,472.3 625.5,491.6 599.39,495.7" fill="#e4e5e6" stroke="none" stroke-width="0" stroke-linejoin="round" />
<g clip-path="url(#c40)">
<polygon points="587.89,468.07 614,463.3 614,482.6 587.89,486.7" fill="#e9eaeb" stroke="none" stroke-width="0" stroke-linejoin="round" />
<polygon points="587.89,468.07 614,463.3 614,482.6 587.89,486.7" fill="none" stroke="#1b1a1a" stroke-width="0.9" stroke-linejoin="round" />
<line x1="625.5" y1="491.6" x2="614" y2="482.6" stroke="#1b1a1a" stroke-width="0.9" stroke-linecap="round"/>
</g>
<polygon points="574.6,481.6 599.39,477.07 599.39,495.7 574.6,499.6" fill="none" stroke="#1b1a1a" stroke-width="1.5" stroke-linejoin="round" />
<polygon points="599.39,477.07 625.5,472.3 625.5,491.6 599.39,495.7" fill="none" stroke="#1b1a1a" stroke-width="1.5" stroke-linejoin="round" />
<polygon points="574.6,481.6 625.5,472.3 625.5,491.6 574.6,499.6" fill="none" stroke="#1b1a1a" stroke-width="1.6" stroke-linejoin="round" />
<polygon points="560.8,467.8 574,478.6 574.6,481.6 560.8,471" fill="#ffffff" stroke="#1b1a1a" stroke-width="0.9" stroke-linejoin="round" />
<polygon points="574,478.6 625.5,469.5 625.5,472.3 574.6,481.6" fill="#ffffff" stroke="#1b1a1a" stroke-width="0.9" stroke-linejoin="round" />
<polygon points="560.8,467.8 612.7,458.5 625.5,469.5 574,478.6" fill="#ffffff" stroke="#1b1a1a" stroke-width="1.0" stroke-linejoin="round" />
<polygon points="29.6,559.2 90.1,544.2 90.1,568 29.6,583" fill="#ffffff" stroke="#1b1a1a" stroke-width="1.0" stroke-linejoin="round" />
<polyline points="29.6,605.3 29.6,559.2 90.1,544.2 90.1,567" fill="none" stroke="#1b1a1a" stroke-width="1.5" stroke-linejoin="round" stroke-linecap="round" />
<polygon points="29.6,598.7 29.6,605.3 40.5,602.2 40.5,600.5" fill="#ffffff" stroke="#1b1a1a" stroke-width="0.9" stroke-linejoin="round" />
<polygon points="29.6,582.2 86.6,567.6 155.4,583.6 97.4,598.5" fill="#e4e5e6" stroke="#1b1a1a" stroke-width="1.0" stroke-linejoin="round" />
<line x1="86.6" y1="566.4" x2="155.4" y2="583.3" stroke="#1b1a1a" stroke-width="1.8" stroke-linecap="round"/>
<line x1="86.6" y1="569.4" x2="150.7" y2="585" stroke="#1b1a1a" stroke-width="0.8" stroke-linecap="round"/>
<line x1="86.6" y1="566.4" x2="86.6" y2="569.6" stroke="#1b1a1a" stroke-width="1.4" stroke-linecap="round"/>
<line x1="41.2" y1="584.4" x2="86.6" y2="569.6" stroke="#1b1a1a" stroke-width="0.9" stroke-linecap="round"/>
<line x1="60.4" y1="588.3" x2="101.8" y2="573.5" stroke="#1b1a1a" stroke-width="0.9" stroke-linecap="round"/>
<line x1="83.6" y1="594" x2="126" y2="579.8" stroke="#1b1a1a" stroke-width="0.9" stroke-linecap="round"/>
<polygon points="29.6,582.2 97.4,598.5 97.4,615 29.6,598.7" fill="#e4e5e6" stroke="#1b1a1a" stroke-width="1.0" stroke-linejoin="round" />
<polygon points="97.4,598.5 155.4,584 155.4,601.6 97.4,615" fill="#e4e5e6" stroke="#1b1a1a" stroke-width="1.0" stroke-linejoin="round" />
<polyline points="29.6,582.2 97.4,598.5 155.4,584" fill="none" stroke="#1b1a1a" stroke-width="1.6" stroke-linejoin="round" stroke-linecap="round" />
<line x1="97.8" y1="598.5" x2="97.8" y2="615" stroke="#1b1a1a" stroke-width="2.0" stroke-linecap="round"/>
<line x1="155.4" y1="584" x2="155.4" y2="601.6" stroke="#1b1a1a" stroke-width="1.6" stroke-linecap="round"/>
<polygon points="45.1,718.5 50.1,718.5 48.4,725 46.8,725" fill="#ffffff" stroke="#1b1a1a" stroke-width="1.3" stroke-linejoin="round" />
<polygon points="131.1,733.3 135.5,733.3 134,740.3 132.6,740.3" fill="#ffffff" stroke="#1b1a1a" stroke-width="1.3" stroke-linejoin="round" />
<polygon points="157.1,712.6 160.9,712.6 159.61,720.1 158.39,720.1" fill="#ffffff" stroke="#1b1a1a" stroke-width="1.3" stroke-linejoin="round" />
<path d="M43.6,717.7 L43.6,700 C43.8,684 51,666 65.3,663.4 C72,662.8 74.6,672 74.6,686.3" fill="none" stroke="#1b1a1a" stroke-width="1.5"/>
<path d="M45.2,717 L45.2,700 C45.4,686 50.5,674 58,667.3" fill="none" stroke="#1b1a1a" stroke-width="0.8"/>
<polygon points="51.2,706.5 74.5,690.6 157.1,704.9 134,720.9" fill="#e4e5e6" stroke="#1b1a1a" stroke-width="0.9" stroke-linejoin="round" />
<line x1="95.6" y1="715.6" x2="115.8" y2="698.5" stroke="#1b1a1a" stroke-width="1.0" stroke-linecap="round"/>
<line x1="73.4" y1="686.3" x2="162.3" y2="703.5" stroke="#1b1a1a" stroke-width="1.8" stroke-linecap="round"/>
<line x1="74.5" y1="690.6" x2="157.1" y2="704.9" stroke="#1b1a1a" stroke-width="0.8" stroke-linecap="round"/>
<line x1="73.4" y1="686.3" x2="73.4" y2="689.6" stroke="#1b1a1a" stroke-width="1.2" stroke-linecap="round"/>
<polygon points="45.1,707.1 134,723.3 134,734.5 45.1,719.7" fill="#ffffff" stroke="#1b1a1a" stroke-width="1.0" stroke-linejoin="round" />
<polygon points="134,723.3 162.3,703 162.3,713.5 134,734.5" fill="#ffffff" stroke="#1b1a1a" stroke-width="1.0" stroke-linejoin="round" />
<polyline points="45.1,707.1 134,723.3 162.3,703.5" fill="none" stroke="#1b1a1a" stroke-width="1.6" stroke-linejoin="round" stroke-linecap="round" />
<line x1="134" y1="723.3" x2="134" y2="734.5" stroke="#1b1a1a" stroke-width="1.6" stroke-linecap="round"/>
<path d="M214.1,671.3 C235,670.5 270,674 308.7,688.6 L313.4,689.6 L296.1,695.4 L217.8,680.5 Z" fill="#e4e5e6" stroke="#1b1a1a" stroke-width="1.0"/>
<path d="M214.1,671.3 C235,670.5 270,674 308.7,688.6 L313.4,689.6" fill="none" stroke="#1b1a1a" stroke-width="1.5"/>
<path d="M200.5,694.9 L217.8,680.5 L296.1,695.4 L289.3,709.5 L264.7,708 C262,708.5 261,709.8 259.5,710.5 L229,705.9 C225,704 222,700.5 218.3,699.6 Z" fill="#e4e5e6" stroke="#1b1a1a" stroke-width="1.0"/>
<line x1="200.5" y1="694.9" x2="217.8" y2="680.7" stroke="#1b1a1a" stroke-width="1.2" stroke-linecap="round"/>
<line x1="218.3" y1="699.6" x2="233.5" y2="683.9" stroke="#1b1a1a" stroke-width="1.2" stroke-linecap="round"/>
<line x1="229.3" y1="704.3" x2="248.7" y2="687" stroke="#1b1a1a" stroke-width="1.2" stroke-linecap="round"/>
<line x1="246.6" y1="708" x2="265.7" y2="689.6" stroke="#1b1a1a" stroke-width="1.2" stroke-linecap="round"/>
<line x1="264.7" y1="708" x2="280.4" y2="692.8" stroke="#1b1a1a" stroke-width="1.2" stroke-linecap="round"/>
<line x1="279.3" y1="708.5" x2="294.5" y2="695.9" stroke="#1b1a1a" stroke-width="1.2" stroke-linecap="round"/>
<path d="M194.2,705.5 L194.2,690.1 C196,680 204,672.5 214.1,671.3 L217.8,672.3 L217.8,680.5 L200.5,694.9 Z" fill="#e4e5e6" stroke="#1b1a1a" stroke-width="1.1"/>
<line x1="217.8" y1="672.3" x2="217.8" y2="680.5" stroke="#1b1a1a" stroke-width="1.2" stroke-linecap="round"/>
<path d="M194.2,694.9 L218.3,699.6 C222,700.5 225,704 229,705.9 L259.5,710.5 C261,709.8 262,708.5 264.7,708 L289.3,711.1 L289.3,721.6 L194.2,705.9 Z" fill="#e4e5e6" stroke="#1b1a1a" stroke-width="1.0"/>
<path d="M194.2,694.9 L218.3,699.6 C222,700.5 225,704 229,705.9 L259.5,710.5 C261,709.8 262,708.5 264.7,708 L289.3,711.1" fill="none" stroke="#1b1a1a" stroke-width="1.7"/>
<polygon points="194.2,705.9 289.3,721.6 289.3,731.5 194.2,714" fill="#ffffff" stroke="#1b1a1a" stroke-width="1.0" stroke-linejoin="round" />
<line x1="242.4" y1="713.8" x2="242.4" y2="722.3" stroke="#1b1a1a" stroke-width="1.0" stroke-linecap="round"/>
<polygon points="198.4,706.8 204.2,707.8 204.2,708.8 198.4,707.8" fill="#1b1a1a" stroke="#1b1a1a" stroke-width="0.6" stroke-linejoin="round" />
<polygon points="230.3,713.5 236.1,714.5 236.1,715.5 230.3,714.5" fill="#1b1a1a" stroke="#1b1a1a" stroke-width="0.6" stroke-linejoin="round" />
<polygon points="246,716.2 251.8,717.2 251.8,718.2 246,717.2" fill="#1b1a1a" stroke="#1b1a1a" stroke-width="0.6" stroke-linejoin="round" />
<polygon points="278.3,723.2 284.1,724.2 284.1,725.2 278.3,724.2" fill="#1b1a1a" stroke="#1b1a1a" stroke-width="0.6" stroke-linejoin="round" />
<path d="M307.1,689.4 L313.4,689.6 L313.4,711.1 L289.3,731.5 L289.3,709 C293,699 299,692 307.1,689.4 Z" fill="#e4e5e6" stroke="#1b1a1a" stroke-width="1.1"/>
<line x1="289.3" y1="709" x2="289.3" y2="731.5" stroke="#1b1a1a" stroke-width="1.6" stroke-linecap="round"/>
<polygon points="349.4,676.5 390.3,663.4 390.3,686.4 349.4,700" fill="#e4e5e6" stroke="#1b1a1a" stroke-width="1.0" stroke-linejoin="round" />
<line x1="349.4" y1="676.5" x2="349.4" y2="720" stroke="#1b1a1a" stroke-width="1.6" stroke-linecap="round"/>
<polyline points="349.4,676.5 390.3,663.4 390.3,686.4" fill="none" stroke="#1b1a1a" stroke-width="1.4" stroke-linejoin="round" stroke-linecap="round" />
<polygon points="349.4,712.6 349.4,720 361,716.8 361,715" fill="#e4e5e6" stroke="#1b1a1a" stroke-width="0.9" stroke-linejoin="round" />
<polygon points="350,700.1 390.3,690.8 460,706.2 428.1,718.7" fill="#e4e5e6" stroke="#1b1a1a" stroke-width="0.9" stroke-linejoin="round" />
<line x1="373.43" y1="705.68" x2="411.21" y2="695.42" stroke="#1b1a1a" stroke-width="0.9" stroke-linecap="round"/>
<line x1="398.42" y1="711.63" x2="433.51" y2="700.35" stroke="#1b1a1a" stroke-width="0.9" stroke-linecap="round"/>
<line x1="390.3" y1="686.4" x2="467.9" y2="703.6" stroke="#1b1a1a" stroke-width="1.8" stroke-linecap="round"/>
<line x1="390.3" y1="690.8" x2="460" y2="706.2" stroke="#1b1a1a" stroke-width="0.8" stroke-linecap="round"/>
<polygon points="349.4,700.1 428.1,718.7 426.9,731.6 349.4,712.6" fill="#e4e5e6" stroke="#1b1a1a" stroke-width="1.0" stroke-linejoin="round" />
<polygon points="428.1,718.7 467.9,704.1 467.9,724.3 428.1,738.9" fill="#e4e5e6" stroke="#1b1a1a" stroke-width="1.0" stroke-linejoin="round" />
<polyline points="349.4,700.1 428.1,718.7 467.9,704.1" fill="none" stroke="#1b1a1a" stroke-width="1.7" stroke-linejoin="round" stroke-linecap="round" />
<line x1="428.1" y1="718.7" x2="428.1" y2="738.9" stroke="#1b1a1a" stroke-width="2.0" stroke-linecap="round"/>
<polygon points="512,719 525.5,728 525.5,732.2 512,723" fill="#ffffff" stroke="#1b1a1a" stroke-width="0.9" stroke-linejoin="round" />
<polygon points="525.5,728 559.3,722.5 559.3,727 525.5,732.2" fill="#ffffff" stroke="#1b1a1a" stroke-width="0.9" stroke-linejoin="round" />
<polygon points="506,689.8 549.7,682 567.1,696.3 524.6,704.7" fill="#e4e5e6" stroke="#1b1a1a" stroke-width="1.0" stroke-linejoin="round" />
<polygon points="506,689.8 524.6,704.7 524.6,729 506,714.9" fill="#e4e5e6" stroke="#1b1a1a" stroke-width="1.0" stroke-linejoin="round" />
<polygon points="524.6,704.7 567.1,696.3 567.1,721.5 524.6,729" fill="#ffffff" stroke="none" stroke-width="0" stroke-linejoin="round" />
<polygon points="540.54,703.75 551.16,701.65 550.46,704.25 541.24,706.35" fill="#1b1a1a" stroke="#1b1a1a" stroke-width="0.6" stroke-linejoin="round" />
<line x1="541.94" y1="704.85" x2="549.76" y2="702.75" stroke="#777777" stroke-width="0.5" stroke-linecap="round"/>
<polygon points="524.6,704.7 567.1,696.3 567.1,721.5 524.6,729" fill="none" stroke="#1b1a1a" stroke-width="1.5" stroke-linejoin="round" />
<polygon points="524.6,704.7 567.1,696.3 567.1,721.5 524.6,729" fill="none" stroke="#1b1a1a" stroke-width="1.6" stroke-linejoin="round" />
<polyline points="506,689.8 524.6,704.7 567.1,696.3" fill="none" stroke="#1b1a1a" stroke-width="1.7" stroke-linejoin="round" stroke-linecap="round" />
<line x1="506" y1="689.8" x2="506" y2="714.9" stroke="#1b1a1a" stroke-width="1.0" stroke-linecap="round"/>
<line x1="506" y1="714.9" x2="524.6" y2="729" stroke="#1b1a1a" stroke-width="1.0" stroke-linecap="round"/>
<polygon points="589.7,709.79 593.7,709.79 592.34,717.79 591.06,717.79" fill="#ffffff" stroke="#1b1a1a" stroke-width="1.3" stroke-linejoin="round" />
<polygon points="607.4,719.46 613,719.46 611.1,728.96 609.3,728.96" fill="#ffffff" stroke="#1b1a1a" stroke-width="1.3" stroke-linejoin="round" />
<polygon points="640.2,714.05 645,714.05 643.37,723.55 641.83,723.55" fill="#ffffff" stroke="#1b1a1a" stroke-width="1.3" stroke-linejoin="round" />
<polygon points="586.7,682.8 631.5,674.9 648.3,689.6 605.2,699" fill="#e4e5e6" stroke="#1b1a1a" stroke-width="1.0" stroke-linejoin="round" />
<polygon points="586.7,682.8 605.2,699 605.2,721.3 586.7,706.9" fill="#e4e5e6" stroke="#1b1a1a" stroke-width="1.0" stroke-linejoin="round" />
<polygon points="605.2,699 648.3,689.6 648.3,714.1 605.2,721.3" fill="#ffffff" stroke="none" stroke-width="0" stroke-linejoin="round" />
<polygon points="621.36,697.67 632.14,695.33 631.44,697.93 622.06,700.27" fill="#1b1a1a" stroke="#1b1a1a" stroke-width="0.6" stroke-linejoin="round" />
<line x1="622.76" y1="698.77" x2="630.74" y2="696.43" stroke="#777777" stroke-width="0.5" stroke-linecap="round"/>
<polygon points="605.2,699 648.3,689.6 648.3,714.1 605.2,721.3" fill="none" stroke="#1b1a1a" stroke-width="1.5" stroke-linejoin="round" />
<polygon points="605.2,699 648.3,689.6 648.3,714.1 605.2,721.3" fill="none" stroke="#1b1a1a" stroke-width="1.6" stroke-linejoin="round" />
<polyline points="586.7,682.8 605.2,699 648.3,689.6" fill="none" stroke="#1b1a1a" stroke-width="1.7" stroke-linejoin="round" stroke-linecap="round" />
<line x1="586.7" y1="682.8" x2="586.7" y2="706.9" stroke="#1b1a1a" stroke-width="1.0" stroke-linecap="round"/>
<line x1="586.7" y1="706.9" x2="605.2" y2="721.3" stroke="#1b1a1a" stroke-width="1.0" stroke-linecap="round"/>
<line x1="605.2" y1="701.2" x2="648.3" y2="691.8" stroke="#1b1a1a" stroke-width="0.8" stroke-linecap="round"/>
<line x1="524.6" y1="706.9" x2="567.1" y2="698.5" stroke="#1b1a1a" stroke-width="0.8" stroke-linecap="round"/>
<line x1="583.4" y1="231.9" x2="617.5" y2="225.6" stroke="#1b1a1a" stroke-width="0.8" stroke-linecap="round"/>
<g font-family="Liberation Sans, sans-serif" font-size="9.6" fill="#2a2a2a" text-anchor="middle">
<text x="75.9" y="159.0" textLength="88.2" lengthAdjust="spacingAndGlyphs">пенал П-1 универс.</text>
<text x="75.9" y="171.9" textLength="90.6" lengthAdjust="spacingAndGlyphs">418x1974/2019x510</text>
<text x="204.8" y="159.0" textLength="93.9" lengthAdjust="spacingAndGlyphs">пенал ПС-1 универс.</text>
<text x="204.7" y="171.9" textLength="92.2" lengthAdjust="spacingAndGlyphs">500x1974/2019x408</text>
<text x="334.3" y="159.0" textLength="50.2" lengthAdjust="spacingAndGlyphs">шкаф Шк-1</text>
<text x="334.4" y="171.9" textLength="92.3" lengthAdjust="spacingAndGlyphs">800x1974/2019x510</text>
<text x="463.9" y="159.0" textLength="50.2" lengthAdjust="spacingAndGlyphs">полка Пл-1</text>
<text x="463.7" y="171.9" textLength="61.7" lengthAdjust="spacingAndGlyphs">800x220x236</text>
<text x="593.8" y="159.0" textLength="51.7" lengthAdjust="spacingAndGlyphs">полка Пл-2</text>
<text x="593.1" y="171.9" textLength="66.6" lengthAdjust="spacingAndGlyphs">1300x220x236</text>
<text x="75.9" y="269.7" textLength="44.0" lengthAdjust="spacingAndGlyphs">тумба Т-1</text>
<text x="75.3" y="282.1" textLength="83.1" lengthAdjust="spacingAndGlyphs">800x646/691x408</text>
<text x="205.2" y="269.7" textLength="45.3" lengthAdjust="spacingAndGlyphs">тумба Т-2</text>
<text x="205.1" y="282.1" textLength="88.1" lengthAdjust="spacingAndGlyphs">1300x646/691x408</text>
<text x="334.9" y="269.7" textLength="45.3" lengthAdjust="spacingAndGlyphs">тумба Т-3</text>
<text x="334.3" y="282.1" textLength="84.8" lengthAdjust="spacingAndGlyphs">1450x371/416x404</text>
<text x="464.1" y="269.7" textLength="45.8" lengthAdjust="spacingAndGlyphs">тумба Т-4</text>
<text x="464.0" y="282.1" textLength="80.7" lengthAdjust="spacingAndGlyphs">950x371/416x404</text>
<text x="593.6" y="269.7" textLength="45.3" lengthAdjust="spacingAndGlyphs">тумба Т-5</text>
<text x="593.5" y="282.1" textLength="81.5" lengthAdjust="spacingAndGlyphs">498x371/416x404</text>
<text x="75.3" y="411.2" textLength="46.9" lengthAdjust="spacingAndGlyphs">комод К-1</text>
<text x="75.2" y="423.6" textLength="91.4" lengthAdjust="spacingAndGlyphs">800x1196/1241x408</text>
<text x="204.9" y="411.2" textLength="47.4" lengthAdjust="spacingAndGlyphs">комод К-2</text>
<text x="205.0" y="423.6" textLength="88.4" lengthAdjust="spacingAndGlyphs">1300x883/928x408</text>
<text x="334.2" y="411.2" textLength="47.2" lengthAdjust="spacingAndGlyphs">комод К-3</text>
<text x="334.3" y="423.6" textLength="83.8" lengthAdjust="spacingAndGlyphs">800x883/928x408</text>
<text x="464.0" y="411.2" textLength="53.5" lengthAdjust="spacingAndGlyphs">зеркало З-1</text>
<text x="463.5" y="423.6" textLength="56.8" lengthAdjust="spacingAndGlyphs">800x556x20</text>
<text x="592.8" y="411.2" textLength="114.7" lengthAdjust="spacingAndGlyphs">вешалка с зеркалом ВЗ-1</text>
<text x="593.5" y="423.6" textLength="62.5" lengthAdjust="spacingAndGlyphs">800x1380x20</text>
<text x="75.9" y="523.3" textLength="44.0" lengthAdjust="spacingAndGlyphs">стол Ст-1</text>
<text x="75.9" y="535.5" textLength="60.4" lengthAdjust="spacingAndGlyphs">961x772x506</text>
<text x="270.0" y="523.3" textLength="45.2" lengthAdjust="spacingAndGlyphs">стол Ст-2</text>
<text x="270.2" y="535.5" textLength="111.0" lengthAdjust="spacingAndGlyphs">1340-1850x772/817x510</text>
<text x="464.1" y="523.3" textLength="44.8" lengthAdjust="spacingAndGlyphs">стол Ст-3</text>
<text x="463.7" y="535.5" textLength="85.1" lengthAdjust="spacingAndGlyphs">1300x766/811x526</text>
<text x="592.9" y="523.3" textLength="67.8" lengthAdjust="spacingAndGlyphs">обувница Об-1</text>
<text x="593.3" y="535.5" textLength="83.6" lengthAdjust="spacingAndGlyphs">800x421/466x404</text>
<text x="92.0" y="642.1" textLength="148.5" lengthAdjust="spacingAndGlyphs">арт. 031 кровать с ЛДСП настил.</text>
<text x="92.0" y="653.6" textLength="103.9" lengthAdjust="spacingAndGlyphs">1470/1670x1000x2042</text>
<text x="91.9" y="752.3" textLength="74.9" lengthAdjust="spacingAndGlyphs">арт. 014 кровать</text>
<text x="92.7" y="764.2" textLength="67.4" lengthAdjust="spacingAndGlyphs">885x940x1950</text>
<text x="253.5" y="752.3" textLength="74.9" lengthAdjust="spacingAndGlyphs">арт. 016 кровать</text>
<text x="253.1" y="764.2" textLength="67.4" lengthAdjust="spacingAndGlyphs">1942x700x860</text>
<text x="409.7" y="752.3" textLength="159.8" lengthAdjust="spacingAndGlyphs">арт. 032 кровать 0,9 с низ. щитком</text>
<text x="409.3" y="764.2" textLength="69.0" lengthAdjust="spacingAndGlyphs">950x800x2055</text>
<text x="536.8" y="751.9" textLength="35.5" lengthAdjust="spacingAndGlyphs">подиум</text>
<text x="617.5" y="751.9" textLength="21.5" lengthAdjust="spacingAndGlyphs">ноги</text>
<text x="577.0" y="763.6" textLength="84.3" lengthAdjust="spacingAndGlyphs">опора выбирается</text>
<text x="577.5" y="774.0" textLength="103.2" lengthAdjust="spacingAndGlyphs">по желанию заказчика</text>
</g>
</svg>
</body></html>
